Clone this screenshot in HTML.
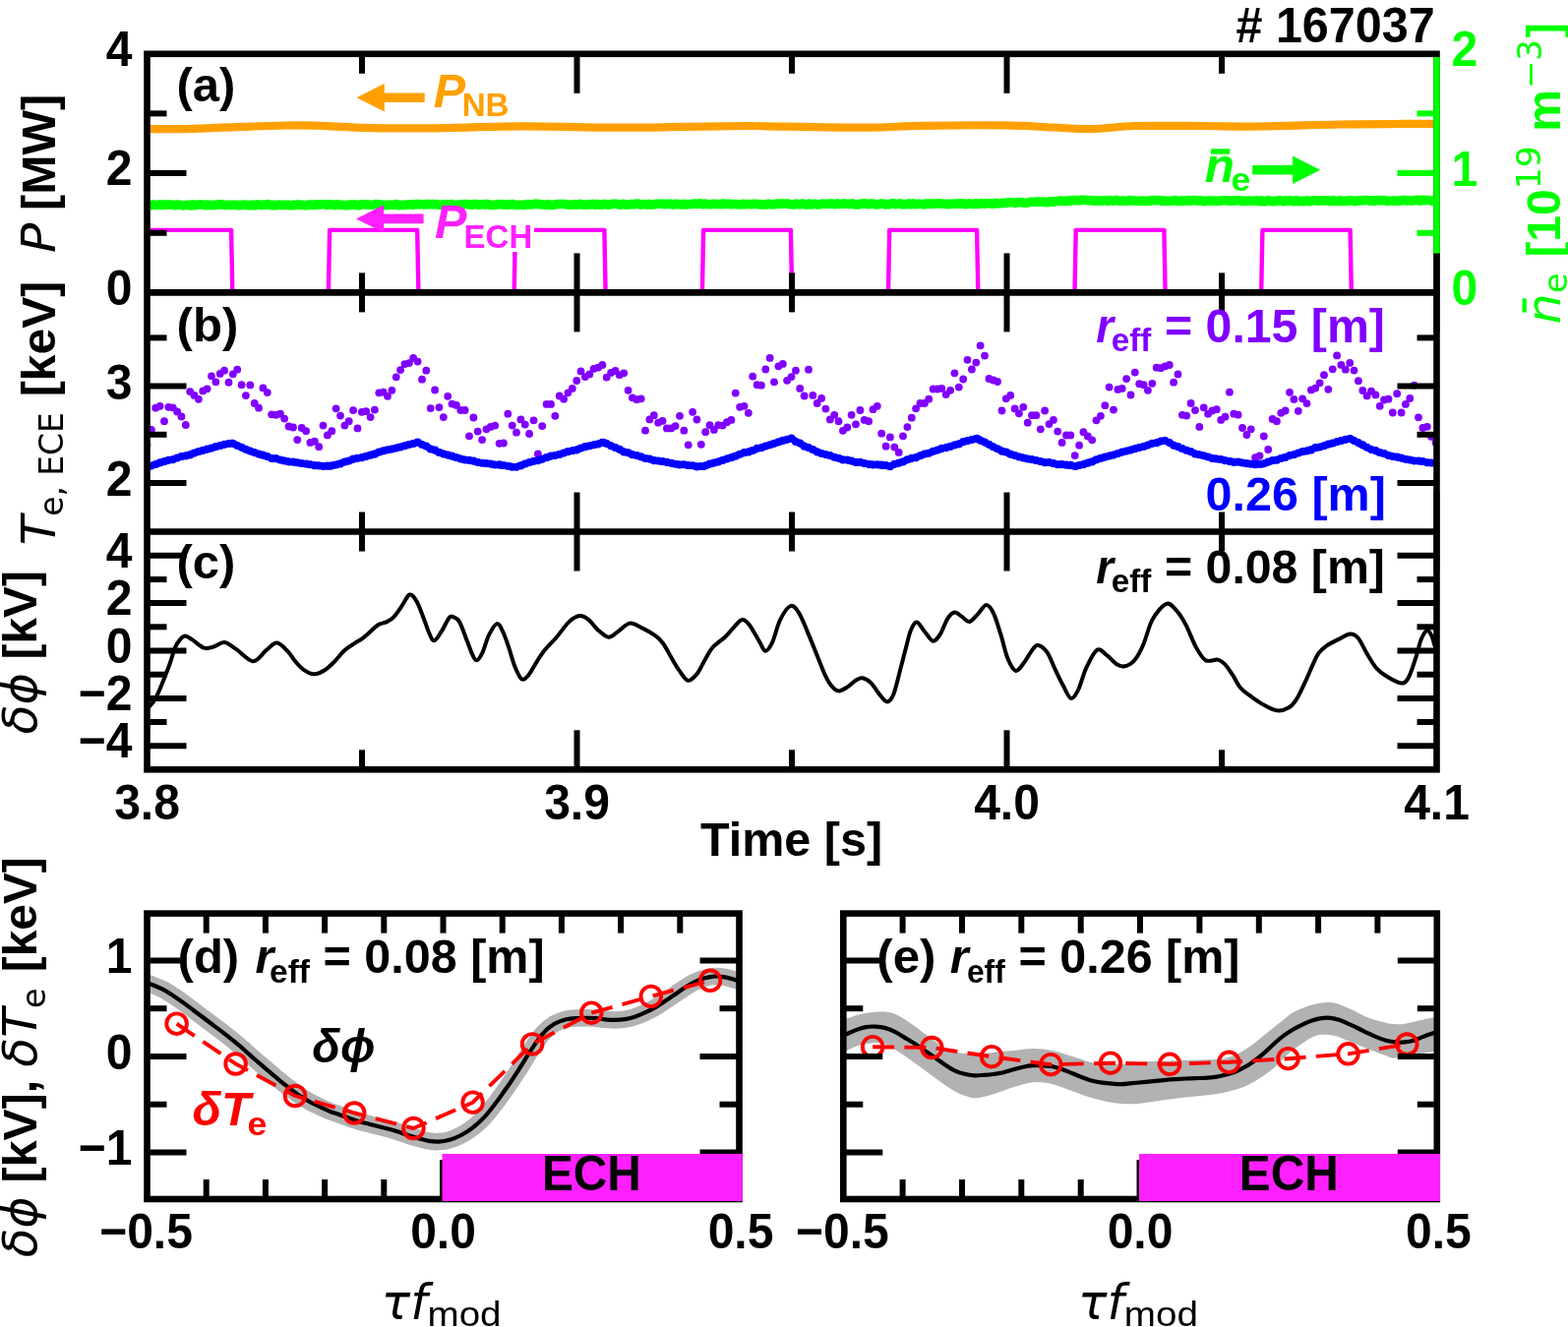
<!DOCTYPE html>
<html><head><meta charset="utf-8"><title>Shot 167037</title><style>
html,body{margin:0;padding:0;background:#fff;overflow:hidden;}
svg{display:block;font-family:"Liberation Sans", Arial, Helvetica, sans-serif;}
</style></head><body>
<svg width="1594" height="1349" viewBox="0 0 1594 1349">
<rect width="1594" height="1349" fill="#fff"/>
<defs><clipPath id="ca"><rect x="149.5" y="54.8" width="1311.0" height="242.6"/></clipPath>
<clipPath id="cb"><rect x="149.5" y="297.4" width="1311.0" height="243.1"/></clipPath>
<clipPath id="cc"><rect x="149.5" y="540.5" width="1311.0" height="241.8"/></clipPath>
<clipPath id="cd"><rect x="149.5" y="928.6" width="602" height="290.4"/></clipPath>
<clipPath id="ce"><rect x="857.3" y="928.6" width="603.5" height="290.4"/></clipPath></defs>
<g clip-path="url(#ca)">
<path d="M148.0,131.1 C148.7,131.1 145.0,131.1 152.0,131.1 C159.0,131.1 175.5,131.4 190.2,131.1 C204.9,130.8 223.7,129.7 240.4,129.1 C257.1,128.5 277.2,127.8 290.6,127.5 C304.0,127.2 309.0,127.2 320.7,127.6 C332.4,127.9 347.5,129.1 360.9,129.6 C374.3,130.1 389.3,130.3 401.0,130.4 C412.7,130.5 421.4,130.5 431.2,130.4 C441.0,130.3 443.5,130.3 460.0,130.0 C476.5,129.7 503.5,128.5 530.3,128.4 C557.1,128.3 595.5,129.5 620.6,129.6 C645.7,129.7 657.5,129.5 680.9,129.2 C704.3,128.9 744.7,128.2 761.2,128.0 C777.7,127.9 760.1,128.0 780.0,128.3 C799.9,128.6 854.3,129.8 880.4,129.7 C906.5,129.6 913.2,128.2 936.6,127.8 C960.0,127.4 998.8,127.1 1021.0,127.4 C1043.2,127.7 1055.2,128.9 1070.0,129.5 C1084.8,130.1 1096.0,131.3 1110.0,131.1 C1124.0,130.8 1135.8,128.5 1154.2,128.0 C1172.6,127.5 1199.4,127.9 1220.5,128.0 C1241.6,128.1 1257.3,128.8 1280.7,128.5 C1304.1,128.2 1337.8,126.9 1361.0,126.5 C1384.2,126.1 1403.2,126.1 1420.0,126.0 C1436.8,125.9 1455.0,125.8 1462.0,125.8" fill="none" stroke="#ffa000" stroke-width="8.2" stroke-linejoin="round" stroke-linecap="round" stroke-linecap="butt"/>
<polyline points="149.5,208.3 151.7,208.1 153.9,208.7 156.1,208.0 158.3,208.5 160.5,208.3 162.7,208.0 164.9,208.5 167.1,208.0 169.3,208.4 171.5,208.0 173.7,208.0 175.9,208.4 178.1,208.8 180.3,208.0 182.5,208.2 184.7,208.6 186.9,208.9 189.1,208.5 191.3,208.3 193.5,209.0 195.7,207.9 197.9,208.8 200.1,208.2 202.3,208.0 204.5,208.0 206.7,208.2 208.9,208.8 211.1,208.1 213.3,208.5 215.5,208.6 217.7,208.3 219.9,208.5 222.1,207.9 224.3,207.9 226.5,208.1 228.7,208.6 230.9,208.3 233.1,208.2 235.3,208.5 237.5,208.3 239.7,208.2 241.9,208.7 244.1,208.6 246.3,208.1 248.5,208.4 250.7,208.4 252.9,208.8 255.1,208.6 257.3,208.1 259.5,208.9 261.7,207.9 263.9,208.3 266.1,208.6 268.3,208.0 270.5,208.3 272.7,207.8 274.9,208.5 277.1,208.6 279.3,208.4 281.5,208.7 283.7,208.1 285.9,208.5 288.1,208.4 290.3,208.4 292.5,208.3 294.7,208.7 296.9,208.8 299.1,208.3 301.3,208.5 303.5,207.8 305.7,208.5 307.9,208.4 310.1,208.8 312.3,208.6 314.5,208.0 316.7,208.1 318.9,208.5 321.1,207.7 323.3,208.2 325.5,207.9 327.7,207.8 329.9,207.8 332.1,208.5 334.3,207.8 336.5,208.0 338.7,208.1 340.9,208.6 343.1,207.8 345.3,208.2 347.5,208.3 349.7,208.6 351.9,208.6 354.1,208.6 356.3,208.0 358.5,208.1 360.7,208.0 362.9,208.6 365.1,208.7 367.3,207.8 369.5,207.8 371.7,207.9 373.9,207.9 376.1,208.2 378.3,208.3 380.5,207.9 382.7,207.6 384.9,208.1 387.1,208.0 389.3,208.2 391.5,208.6 393.7,208.4 395.9,208.2 398.1,208.3 400.3,208.3 402.5,207.6 404.7,208.6 406.9,208.4 409.1,208.5 411.3,208.4 413.5,208.0 415.7,208.0 417.9,207.7 420.1,208.2 422.3,207.6 424.5,207.6 426.7,207.8 428.9,207.7 431.1,207.9 433.3,207.6 435.5,207.5 437.7,207.7 439.9,207.6 442.1,207.9 444.3,207.5 446.5,208.5 448.7,208.2 450.9,207.7 453.1,207.8 455.3,207.9 457.5,207.9 459.7,207.6 461.9,208.4 464.1,208.6 466.3,208.0 468.5,208.0 470.7,207.6 472.9,207.6 475.1,207.8 477.3,207.7 479.5,208.4 481.7,207.6 483.9,207.5 486.1,208.5 488.3,208.0 490.5,207.6 492.7,208.0 494.9,207.5 497.1,208.0 499.3,208.5 501.5,208.4 503.7,208.2 505.9,207.7 508.1,207.8 510.3,207.6 512.5,208.2 514.7,208.0 516.9,208.2 519.1,207.7 521.3,207.6 523.5,208.3 525.7,208.5 527.9,208.3 530.1,208.3 532.3,208.3 534.5,208.2 536.7,207.6 538.9,207.9 541.1,207.7 543.3,207.4 545.5,207.4 547.7,207.6 549.9,207.6 552.1,208.1 554.3,208.4 556.5,207.8 558.7,208.3 560.9,208.4 563.1,208.3 565.3,207.7 567.5,207.5 569.7,207.5 571.9,207.5 574.1,207.5 576.3,207.9 578.5,208.2 580.7,208.2 582.9,207.8 585.1,208.0 587.3,208.1 589.5,207.3 591.7,207.9 593.9,208.2 596.1,208.1 598.3,208.0 600.5,207.7 602.7,207.4 604.9,208.1 607.1,207.5 609.3,208.1 611.5,208.2 613.7,207.6 615.9,207.6 618.1,208.2 620.3,207.9 622.5,207.3 624.7,207.3 626.9,207.3 629.1,208.1 631.3,208.0 633.5,207.3 635.7,208.0 637.9,208.2 640.1,207.8 642.3,207.5 644.5,207.7 646.7,207.2 648.9,207.1 651.1,208.1 653.3,207.8 655.5,207.6 657.7,208.1 659.9,207.5 662.1,208.0 664.3,207.9 666.5,207.3 668.7,207.3 670.9,207.3 673.1,207.3 675.3,207.7 677.5,207.3 679.7,207.5 681.9,207.1 684.1,208.0 686.3,207.4 688.5,207.5 690.7,207.6 692.9,208.0 695.1,207.4 697.3,208.0 699.5,207.5 701.7,207.5 703.9,207.5 706.1,207.0 708.3,207.4 710.5,207.1 712.7,206.9 714.9,207.8 717.1,207.1 719.3,207.5 721.5,207.7 723.7,207.5 725.9,207.3 728.1,207.5 730.3,207.5 732.5,207.8 734.7,207.0 736.9,207.5 739.1,207.2 741.3,207.2 743.5,207.8 745.7,207.5 747.9,207.5 750.1,207.8 752.3,207.9 754.5,207.4 756.7,207.6 758.9,207.5 761.1,207.5 763.3,207.7 765.5,207.4 767.7,207.5 769.9,207.4 772.1,207.9 774.3,207.7 776.5,207.9 778.7,207.9 780.9,207.2 783.1,207.5 785.3,207.9 787.5,207.8 789.7,207.1 791.9,207.0 794.1,207.4 796.3,207.0 798.5,207.2 800.7,207.0 802.9,207.6 805.1,207.8 807.3,207.9 809.5,207.1 811.7,207.7 813.9,207.6 816.1,207.0 818.3,207.9 820.5,207.9 822.7,207.1 824.9,207.9 827.1,207.3 829.3,207.4 831.5,208.0 833.7,207.8 835.9,207.1 838.1,207.3 840.3,207.4 842.5,207.2 844.7,207.1 846.9,207.2 849.1,207.7 851.3,206.9 853.5,207.5 855.7,207.3 857.9,206.9 860.1,207.2 862.3,207.5 864.5,207.4 866.7,206.9 868.9,207.9 871.1,207.7 873.3,207.9 875.5,207.0 877.7,207.1 879.9,206.9 882.1,207.7 884.3,207.1 886.5,207.0 888.7,207.3 890.9,207.9 893.1,207.8 895.3,207.1 897.5,207.0 899.7,207.9 901.9,207.5 904.1,207.6 906.3,206.9 908.5,206.9 910.7,207.6 912.9,207.3 915.1,206.9 917.3,207.9 919.5,207.5 921.7,207.7 923.9,206.9 926.1,207.8 928.3,206.9 930.5,207.8 932.7,207.3 934.9,207.2 937.1,207.5 939.3,207.9 941.5,207.1 943.7,207.0 945.9,207.4 948.1,207.1 950.3,207.0 952.5,207.0 954.7,206.9 956.9,207.1 959.1,207.2 961.3,207.2 963.5,207.7 965.7,207.2 967.9,207.4 970.1,207.0 972.3,207.2 974.5,206.9 976.7,207.1 978.9,206.9 981.1,207.6 983.3,207.4 985.5,206.9 987.7,207.2 989.9,207.6 992.1,206.7 994.3,207.4 996.5,206.9 998.7,206.9 1000.9,207.3 1003.1,206.7 1005.3,206.8 1007.5,206.9 1009.7,207.2 1011.9,206.4 1014.1,206.9 1016.3,206.7 1018.5,206.6 1020.7,206.3 1022.9,206.2 1025.1,205.8 1027.3,205.8 1029.5,205.7 1031.7,206.4 1033.9,205.8 1036.1,205.7 1038.3,205.5 1040.5,206.3 1042.7,206.2 1044.9,205.9 1047.1,205.4 1049.3,205.3 1051.5,205.3 1053.7,205.4 1055.9,205.0 1058.1,205.2 1060.3,205.0 1062.5,205.6 1064.7,205.6 1066.9,205.0 1069.1,204.6 1071.3,205.3 1073.5,204.5 1075.7,204.5 1077.9,204.0 1080.1,204.4 1082.3,204.4 1084.5,204.4 1086.7,203.9 1088.9,204.2 1091.1,203.6 1093.3,203.8 1095.5,203.5 1097.7,203.8 1099.9,203.3 1102.1,203.3 1104.3,203.6 1106.5,203.5 1108.7,203.9 1110.9,203.9 1113.1,204.1 1115.3,204.0 1117.5,204.1 1119.7,204.3 1121.9,203.7 1124.1,203.7 1126.3,204.4 1128.5,203.5 1130.7,204.1 1132.9,204.0 1135.1,203.4 1137.3,204.3 1139.5,204.3 1141.7,204.0 1143.9,204.2 1146.1,204.3 1148.3,203.5 1150.5,204.0 1152.7,203.9 1154.9,204.3 1157.1,204.3 1159.3,204.3 1161.5,204.0 1163.7,204.4 1165.9,204.2 1168.1,204.2 1170.3,203.7 1172.5,203.5 1174.7,203.6 1176.9,203.8 1179.1,203.6 1181.3,204.4 1183.5,204.1 1185.7,204.2 1187.9,204.2 1190.1,204.2 1192.3,204.0 1194.5,203.5 1196.7,204.4 1198.9,204.3 1201.1,204.1 1203.3,204.1 1205.5,204.2 1207.7,203.6 1209.9,204.3 1212.1,203.8 1214.3,203.6 1216.5,203.8 1218.7,204.3 1220.9,203.8 1223.1,204.4 1225.3,204.6 1227.5,204.1 1229.7,204.0 1231.9,204.1 1234.1,204.3 1236.3,204.4 1238.5,204.3 1240.7,204.3 1242.9,203.7 1245.1,203.8 1247.3,203.9 1249.5,204.4 1251.7,204.0 1253.9,204.3 1256.1,203.7 1258.3,203.7 1260.5,203.9 1262.7,204.4 1264.9,204.4 1267.1,204.4 1269.3,204.0 1271.5,204.2 1273.7,204.2 1275.9,204.2 1278.1,203.8 1280.3,204.6 1282.5,203.9 1284.7,204.7 1286.9,204.7 1289.1,203.7 1291.3,204.2 1293.5,204.6 1295.7,204.7 1297.9,204.1 1300.1,203.9 1302.3,203.9 1304.5,204.7 1306.7,203.9 1308.9,204.3 1311.1,203.8 1313.3,204.2 1315.5,204.7 1317.7,203.8 1319.9,204.6 1322.1,204.2 1324.3,204.6 1326.5,204.4 1328.7,203.9 1330.9,204.6 1333.1,204.2 1335.3,203.7 1337.5,203.7 1339.7,204.2 1341.9,204.1 1344.1,204.0 1346.3,203.8 1348.5,204.0 1350.7,203.9 1352.9,204.5 1355.1,203.6 1357.3,204.4 1359.5,204.5 1361.7,203.7 1363.9,204.6 1366.1,204.3 1368.3,204.5 1370.5,203.8 1372.7,203.9 1374.9,203.9 1377.1,204.6 1379.3,204.1 1381.5,203.8 1383.7,203.9 1385.9,203.7 1388.1,203.5 1390.3,203.5 1392.5,204.3 1394.7,203.7 1396.9,204.4 1399.1,203.6 1401.3,203.6 1403.5,203.9 1405.7,203.5 1407.9,203.7 1410.1,204.4 1412.3,204.3 1414.5,204.2 1416.7,204.0 1418.9,204.3 1421.1,204.3 1423.3,203.8 1425.5,204.0 1427.7,203.3 1429.9,204.0 1432.1,203.7 1434.3,204.0 1436.5,203.9 1438.7,203.5 1440.9,203.2 1443.1,204.2 1445.3,203.3 1447.5,203.6 1449.7,203.5 1451.9,203.4 1454.1,203.9 1456.3,204.2 1458.5,203.4 1460.7,203.8" fill="none" stroke="#00ff00" stroke-width="9.6" stroke-linejoin="round" stroke-linecap="butt"/>
<polyline points="149.5,233.9 235.1,233.9 236.3,297.4 333.9,297.4 335.1,233.9 424.2,233.9 425.4,297.4 522.7,297.4 523.9,233.9 614.4,233.9 615.6,297.4 713.9,297.4 715.1,233.9 803.9,233.9 805.1,297.4 903.0,297.4 904.2,233.9 993.1,233.9 994.3,297.4 1092.5,297.4 1093.7,233.9 1183.4,233.9 1184.6,297.4 1282.2,297.4 1283.4,233.9 1372.6,233.9 1373.8,297.4 1460.5,297.4" fill="none" stroke="#ff00ff" stroke-width="4.4" stroke-linejoin="round" stroke-linejoin="miter"/>
</g><g clip-path="url(#cb)">
<g fill="#8000ff">
<circle cx="149.5" cy="452.0" r="3.9"/>
<circle cx="153.9" cy="436.9" r="3.9"/>
<circle cx="158.2" cy="414.7" r="3.9"/>
<circle cx="162.6" cy="412.8" r="3.9"/>
<circle cx="167.0" cy="428.2" r="3.9"/>
<circle cx="171.3" cy="413.8" r="3.9"/>
<circle cx="175.7" cy="414.3" r="3.9"/>
<circle cx="180.1" cy="418.5" r="3.9"/>
<circle cx="184.4" cy="423.5" r="3.9"/>
<circle cx="188.8" cy="432.0" r="3.9"/>
<circle cx="193.2" cy="398.1" r="3.9"/>
<circle cx="197.5" cy="401.9" r="3.9"/>
<circle cx="201.9" cy="405.8" r="3.9"/>
<circle cx="206.3" cy="397.4" r="3.9"/>
<circle cx="210.6" cy="395.3" r="3.9"/>
<circle cx="215.0" cy="382.3" r="3.9"/>
<circle cx="219.4" cy="388.3" r="3.9"/>
<circle cx="223.7" cy="379.9" r="3.9"/>
<circle cx="228.1" cy="376.7" r="3.9"/>
<circle cx="232.5" cy="388.7" r="3.9"/>
<circle cx="236.8" cy="380.3" r="3.9"/>
<circle cx="241.2" cy="375.7" r="3.9"/>
<circle cx="245.6" cy="391.2" r="3.9"/>
<circle cx="249.9" cy="402.1" r="3.9"/>
<circle cx="254.3" cy="391.4" r="3.9"/>
<circle cx="258.7" cy="410.0" r="3.9"/>
<circle cx="263.0" cy="414.7" r="3.9"/>
<circle cx="267.4" cy="394.4" r="3.9"/>
<circle cx="271.8" cy="399.1" r="3.9"/>
<circle cx="276.1" cy="421.3" r="3.9"/>
<circle cx="280.5" cy="421.8" r="3.9"/>
<circle cx="284.9" cy="420.7" r="3.9"/>
<circle cx="289.2" cy="425.6" r="3.9"/>
<circle cx="293.6" cy="433.5" r="3.9"/>
<circle cx="298.0" cy="434.5" r="3.9"/>
<circle cx="302.3" cy="447.1" r="3.9"/>
<circle cx="306.7" cy="435.0" r="3.9"/>
<circle cx="311.1" cy="438.2" r="3.9"/>
<circle cx="315.4" cy="449.9" r="3.9"/>
<circle cx="319.8" cy="448.6" r="3.9"/>
<circle cx="324.2" cy="454.2" r="3.9"/>
<circle cx="328.5" cy="432.6" r="3.9"/>
<circle cx="332.9" cy="442.4" r="3.9"/>
<circle cx="337.3" cy="438.2" r="3.9"/>
<circle cx="341.6" cy="415.3" r="3.9"/>
<circle cx="346.0" cy="422.6" r="3.9"/>
<circle cx="350.4" cy="432.6" r="3.9"/>
<circle cx="354.7" cy="428.2" r="3.9"/>
<circle cx="359.1" cy="417.1" r="3.9"/>
<circle cx="363.5" cy="435.4" r="3.9"/>
<circle cx="367.8" cy="418.8" r="3.9"/>
<circle cx="372.2" cy="418.1" r="3.9"/>
<circle cx="376.6" cy="424.1" r="3.9"/>
<circle cx="380.9" cy="416.6" r="3.9"/>
<circle cx="385.3" cy="399.3" r="3.9"/>
<circle cx="389.7" cy="398.7" r="3.9"/>
<circle cx="394.0" cy="402.8" r="3.9"/>
<circle cx="398.4" cy="396.8" r="3.9"/>
<circle cx="402.8" cy="383.3" r="3.9"/>
<circle cx="407.1" cy="376.1" r="3.9"/>
<circle cx="411.5" cy="370.1" r="3.9"/>
<circle cx="415.9" cy="369.1" r="3.9"/>
<circle cx="420.2" cy="363.9" r="3.9"/>
<circle cx="424.6" cy="367.6" r="3.9"/>
<circle cx="429.0" cy="385.7" r="3.9"/>
<circle cx="433.3" cy="376.7" r="3.9"/>
<circle cx="437.7" cy="415.1" r="3.9"/>
<circle cx="442.1" cy="396.5" r="3.9"/>
<circle cx="446.4" cy="414.1" r="3.9"/>
<circle cx="450.8" cy="424.1" r="3.9"/>
<circle cx="455.2" cy="402.8" r="3.9"/>
<circle cx="459.5" cy="410.6" r="3.9"/>
<circle cx="463.9" cy="411.9" r="3.9"/>
<circle cx="468.3" cy="417.0" r="3.9"/>
<circle cx="472.6" cy="417.0" r="3.9"/>
<circle cx="477.0" cy="443.3" r="3.9"/>
<circle cx="481.4" cy="424.5" r="3.9"/>
<circle cx="485.7" cy="438.6" r="3.9"/>
<circle cx="490.1" cy="447.1" r="3.9"/>
<circle cx="494.5" cy="436.3" r="3.9"/>
<circle cx="498.8" cy="433.9" r="3.9"/>
<circle cx="503.2" cy="432.6" r="3.9"/>
<circle cx="507.6" cy="450.8" r="3.9"/>
<circle cx="511.9" cy="450.5" r="3.9"/>
<circle cx="516.3" cy="420.7" r="3.9"/>
<circle cx="520.7" cy="432.6" r="3.9"/>
<circle cx="525.0" cy="439.7" r="3.9"/>
<circle cx="529.4" cy="426.4" r="3.9"/>
<circle cx="533.8" cy="431.6" r="3.9"/>
<circle cx="538.1" cy="441.0" r="3.9"/>
<circle cx="542.5" cy="427.3" r="3.9"/>
<circle cx="546.9" cy="461.4" r="3.9"/>
<circle cx="551.2" cy="433.1" r="3.9"/>
<circle cx="555.6" cy="410.9" r="3.9"/>
<circle cx="560.0" cy="410.9" r="3.9"/>
<circle cx="564.3" cy="422.8" r="3.9"/>
<circle cx="568.7" cy="402.5" r="3.9"/>
<circle cx="573.1" cy="405.7" r="3.9"/>
<circle cx="577.4" cy="399.3" r="3.9"/>
<circle cx="581.8" cy="394.9" r="3.9"/>
<circle cx="586.2" cy="387.0" r="3.9"/>
<circle cx="590.5" cy="377.4" r="3.9"/>
<circle cx="594.9" cy="383.1" r="3.9"/>
<circle cx="599.3" cy="380.4" r="3.9"/>
<circle cx="603.6" cy="374.8" r="3.9"/>
<circle cx="608.0" cy="373.7" r="3.9"/>
<circle cx="612.4" cy="371.0" r="3.9"/>
<circle cx="616.7" cy="383.6" r="3.9"/>
<circle cx="621.1" cy="378.9" r="3.9"/>
<circle cx="625.5" cy="377.0" r="3.9"/>
<circle cx="629.8" cy="381.2" r="3.9"/>
<circle cx="634.2" cy="379.3" r="3.9"/>
<circle cx="638.6" cy="396.8" r="3.9"/>
<circle cx="642.9" cy="404.3" r="3.9"/>
<circle cx="647.3" cy="406.2" r="3.9"/>
<circle cx="651.7" cy="405.3" r="3.9"/>
<circle cx="656.0" cy="437.7" r="3.9"/>
<circle cx="660.4" cy="426.4" r="3.9"/>
<circle cx="664.8" cy="422.2" r="3.9"/>
<circle cx="669.1" cy="429.7" r="3.9"/>
<circle cx="673.5" cy="427.9" r="3.9"/>
<circle cx="677.9" cy="435.4" r="3.9"/>
<circle cx="682.2" cy="435.4" r="3.9"/>
<circle cx="686.6" cy="433.1" r="3.9"/>
<circle cx="691.0" cy="422.8" r="3.9"/>
<circle cx="695.3" cy="437.7" r="3.9"/>
<circle cx="699.7" cy="452.3" r="3.9"/>
<circle cx="704.1" cy="418.8" r="3.9"/>
<circle cx="708.4" cy="426.5" r="3.9"/>
<circle cx="712.8" cy="451.8" r="3.9"/>
<circle cx="717.2" cy="439.2" r="3.9"/>
<circle cx="721.5" cy="432.2" r="3.9"/>
<circle cx="725.9" cy="436.9" r="3.9"/>
<circle cx="730.3" cy="432.2" r="3.9"/>
<circle cx="734.6" cy="432.6" r="3.9"/>
<circle cx="739.0" cy="429.2" r="3.9"/>
<circle cx="743.4" cy="426.9" r="3.9"/>
<circle cx="747.7" cy="399.6" r="3.9"/>
<circle cx="752.1" cy="413.8" r="3.9"/>
<circle cx="756.5" cy="412.8" r="3.9"/>
<circle cx="760.8" cy="419.8" r="3.9"/>
<circle cx="765.2" cy="382.7" r="3.9"/>
<circle cx="769.6" cy="391.2" r="3.9"/>
<circle cx="773.9" cy="391.7" r="3.9"/>
<circle cx="778.3" cy="375.5" r="3.9"/>
<circle cx="782.7" cy="363.9" r="3.9"/>
<circle cx="787.0" cy="388.3" r="3.9"/>
<circle cx="791.4" cy="372.3" r="3.9"/>
<circle cx="795.8" cy="369.9" r="3.9"/>
<circle cx="800.1" cy="386.8" r="3.9"/>
<circle cx="804.5" cy="383.1" r="3.9"/>
<circle cx="808.9" cy="376.7" r="3.9"/>
<circle cx="813.2" cy="394.9" r="3.9"/>
<circle cx="817.6" cy="402.5" r="3.9"/>
<circle cx="822.0" cy="375.7" r="3.9"/>
<circle cx="826.3" cy="401.9" r="3.9"/>
<circle cx="830.7" cy="410.0" r="3.9"/>
<circle cx="835.1" cy="404.9" r="3.9"/>
<circle cx="839.4" cy="415.6" r="3.9"/>
<circle cx="843.8" cy="426.4" r="3.9"/>
<circle cx="848.2" cy="421.8" r="3.9"/>
<circle cx="852.5" cy="428.2" r="3.9"/>
<circle cx="856.9" cy="437.8" r="3.9"/>
<circle cx="861.3" cy="434.5" r="3.9"/>
<circle cx="865.6" cy="421.8" r="3.9"/>
<circle cx="870.0" cy="431.3" r="3.9"/>
<circle cx="874.4" cy="417.0" r="3.9"/>
<circle cx="878.7" cy="426.9" r="3.9"/>
<circle cx="883.1" cy="428.2" r="3.9"/>
<circle cx="887.5" cy="416.2" r="3.9"/>
<circle cx="891.8" cy="412.8" r="3.9"/>
<circle cx="896.2" cy="440.7" r="3.9"/>
<circle cx="900.6" cy="453.7" r="3.9"/>
<circle cx="904.9" cy="444.4" r="3.9"/>
<circle cx="909.3" cy="454.6" r="3.9"/>
<circle cx="913.7" cy="459.9" r="3.9"/>
<circle cx="918.0" cy="443.3" r="3.9"/>
<circle cx="922.4" cy="434.1" r="3.9"/>
<circle cx="926.8" cy="424.7" r="3.9"/>
<circle cx="931.1" cy="415.3" r="3.9"/>
<circle cx="935.5" cy="410.0" r="3.9"/>
<circle cx="939.9" cy="410.0" r="3.9"/>
<circle cx="944.2" cy="405.7" r="3.9"/>
<circle cx="948.6" cy="395.5" r="3.9"/>
<circle cx="953.0" cy="395.5" r="3.9"/>
<circle cx="957.3" cy="394.9" r="3.9"/>
<circle cx="961.7" cy="401.1" r="3.9"/>
<circle cx="966.1" cy="396.8" r="3.9"/>
<circle cx="970.4" cy="379.3" r="3.9"/>
<circle cx="974.8" cy="393.6" r="3.9"/>
<circle cx="979.2" cy="385.5" r="3.9"/>
<circle cx="983.5" cy="365.8" r="3.9"/>
<circle cx="987.9" cy="375.5" r="3.9"/>
<circle cx="992.3" cy="368.6" r="3.9"/>
<circle cx="996.6" cy="351.3" r="3.9"/>
<circle cx="1001.0" cy="361.6" r="3.9"/>
<circle cx="1005.4" cy="385.0" r="3.9"/>
<circle cx="1009.7" cy="386.5" r="3.9"/>
<circle cx="1014.1" cy="388.0" r="3.9"/>
<circle cx="1018.5" cy="417.5" r="3.9"/>
<circle cx="1022.8" cy="405.3" r="3.9"/>
<circle cx="1027.2" cy="401.9" r="3.9"/>
<circle cx="1031.6" cy="415.4" r="3.9"/>
<circle cx="1035.9" cy="420.3" r="3.9"/>
<circle cx="1040.3" cy="413.8" r="3.9"/>
<circle cx="1044.7" cy="429.7" r="3.9"/>
<circle cx="1049.0" cy="422.2" r="3.9"/>
<circle cx="1053.4" cy="422.2" r="3.9"/>
<circle cx="1057.8" cy="436.3" r="3.9"/>
<circle cx="1062.1" cy="417.5" r="3.9"/>
<circle cx="1066.5" cy="431.1" r="3.9"/>
<circle cx="1070.9" cy="426.9" r="3.9"/>
<circle cx="1075.2" cy="438.6" r="3.9"/>
<circle cx="1079.6" cy="449.9" r="3.9"/>
<circle cx="1084.0" cy="442.5" r="3.9"/>
<circle cx="1088.3" cy="442.5" r="3.9"/>
<circle cx="1092.7" cy="463.1" r="3.9"/>
<circle cx="1097.1" cy="452.7" r="3.9"/>
<circle cx="1101.4" cy="439.2" r="3.9"/>
<circle cx="1105.8" cy="443.5" r="3.9"/>
<circle cx="1110.2" cy="447.3" r="3.9"/>
<circle cx="1114.5" cy="427.3" r="3.9"/>
<circle cx="1118.9" cy="422.8" r="3.9"/>
<circle cx="1123.3" cy="412.2" r="3.9"/>
<circle cx="1127.6" cy="393.6" r="3.9"/>
<circle cx="1132.0" cy="416.6" r="3.9"/>
<circle cx="1136.4" cy="395.9" r="3.9"/>
<circle cx="1140.7" cy="394.9" r="3.9"/>
<circle cx="1145.1" cy="385.1" r="3.9"/>
<circle cx="1149.5" cy="401.5" r="3.9"/>
<circle cx="1153.8" cy="378.6" r="3.9"/>
<circle cx="1158.2" cy="390.2" r="3.9"/>
<circle cx="1162.6" cy="391.2" r="3.9"/>
<circle cx="1166.9" cy="396.8" r="3.9"/>
<circle cx="1171.3" cy="389.8" r="3.9"/>
<circle cx="1175.7" cy="373.7" r="3.9"/>
<circle cx="1180.0" cy="374.2" r="3.9"/>
<circle cx="1184.4" cy="372.3" r="3.9"/>
<circle cx="1188.8" cy="371.0" r="3.9"/>
<circle cx="1193.1" cy="388.7" r="3.9"/>
<circle cx="1197.5" cy="380.4" r="3.9"/>
<circle cx="1201.9" cy="421.8" r="3.9"/>
<circle cx="1206.2" cy="422.6" r="3.9"/>
<circle cx="1210.6" cy="410.0" r="3.9"/>
<circle cx="1215.0" cy="417.1" r="3.9"/>
<circle cx="1219.3" cy="433.9" r="3.9"/>
<circle cx="1223.7" cy="414.3" r="3.9"/>
<circle cx="1228.1" cy="420.7" r="3.9"/>
<circle cx="1232.4" cy="417.5" r="3.9"/>
<circle cx="1236.8" cy="416.2" r="3.9"/>
<circle cx="1241.2" cy="426.9" r="3.9"/>
<circle cx="1245.5" cy="423.7" r="3.9"/>
<circle cx="1249.9" cy="398.7" r="3.9"/>
<circle cx="1254.3" cy="420.7" r="3.9"/>
<circle cx="1258.6" cy="421.7" r="3.9"/>
<circle cx="1263.0" cy="435.0" r="3.9"/>
<circle cx="1267.4" cy="442.0" r="3.9"/>
<circle cx="1271.7" cy="436.3" r="3.9"/>
<circle cx="1276.1" cy="465.1" r="3.9"/>
<circle cx="1280.5" cy="463.3" r="3.9"/>
<circle cx="1284.8" cy="443.5" r="3.9"/>
<circle cx="1289.2" cy="457.0" r="3.9"/>
<circle cx="1293.6" cy="426.0" r="3.9"/>
<circle cx="1297.9" cy="428.2" r="3.9"/>
<circle cx="1302.3" cy="419.8" r="3.9"/>
<circle cx="1306.7" cy="417.5" r="3.9"/>
<circle cx="1311.0" cy="398.8" r="3.9"/>
<circle cx="1315.4" cy="405.9" r="3.9"/>
<circle cx="1319.8" cy="417.8" r="3.9"/>
<circle cx="1324.1" cy="405.3" r="3.9"/>
<circle cx="1328.5" cy="410.1" r="3.9"/>
<circle cx="1332.9" cy="396.4" r="3.9"/>
<circle cx="1337.2" cy="394.6" r="3.9"/>
<circle cx="1341.6" cy="389.3" r="3.9"/>
<circle cx="1346.0" cy="381.2" r="3.9"/>
<circle cx="1350.3" cy="395.8" r="3.9"/>
<circle cx="1354.7" cy="375.3" r="3.9"/>
<circle cx="1359.1" cy="361.4" r="3.9"/>
<circle cx="1363.4" cy="370.9" r="3.9"/>
<circle cx="1367.8" cy="375.7" r="3.9"/>
<circle cx="1372.2" cy="368.9" r="3.9"/>
<circle cx="1376.5" cy="376.6" r="3.9"/>
<circle cx="1380.9" cy="387.2" r="3.9"/>
<circle cx="1385.3" cy="397.0" r="3.9"/>
<circle cx="1389.6" cy="402.4" r="3.9"/>
<circle cx="1394.0" cy="397.6" r="3.9"/>
<circle cx="1398.4" cy="401.4" r="3.9"/>
<circle cx="1402.7" cy="412.8" r="3.9"/>
<circle cx="1407.1" cy="406.5" r="3.9"/>
<circle cx="1411.5" cy="405.7" r="3.9"/>
<circle cx="1415.8" cy="419.5" r="3.9"/>
<circle cx="1420.2" cy="400.2" r="3.9"/>
<circle cx="1424.6" cy="419.5" r="3.9"/>
<circle cx="1428.9" cy="410.9" r="3.9"/>
<circle cx="1433.3" cy="405.0" r="3.9"/>
<circle cx="1437.7" cy="391.7" r="3.9"/>
<circle cx="1442.0" cy="424.3" r="3.9"/>
<circle cx="1446.4" cy="435.0" r="3.9"/>
<circle cx="1450.8" cy="433.8" r="3.9"/>
<circle cx="1455.1" cy="443.9" r="3.9"/>
<circle cx="1459.5" cy="450.0" r="3.9"/>
</g>
<polyline points="149.5,475.0 153.1,473.7 156.7,472.5 160.3,471.4 163.9,470.3 167.5,469.2 171.1,468.1 174.7,467.1 178.3,466.0 181.9,465.0 185.5,463.9 189.1,462.9 192.8,461.9 196.4,460.9 200.0,459.9 203.6,458.9 207.2,457.9 210.8,456.9 214.4,455.9 218.0,454.9 221.6,453.9 225.2,452.9 228.8,451.9 232.4,451.0 236.0,450.0 240.2,452.2 244.3,454.3 248.5,456.2 252.7,457.9 256.8,459.5 261.0,461.0 265.2,462.4 269.3,463.6 273.5,464.8 277.7,465.8 281.8,466.8 286.0,467.7 290.2,468.5 294.3,469.3 298.5,470.0 302.7,470.6 306.8,471.2 311.0,471.7 315.2,472.2 319.3,472.7 323.5,473.1 327.7,473.5 331.8,473.9 336.0,474.2 339.7,472.9 343.4,471.8 347.1,470.6 350.8,469.5 354.5,468.5 358.2,467.4 361.9,466.3 365.6,465.3 369.3,464.3 373.0,463.3 376.7,462.2 380.4,461.2 384.1,460.2 387.8,459.2 391.5,458.2 395.2,457.3 398.9,456.3 402.6,455.3 406.3,454.3 410.0,453.4 413.7,452.4 417.4,451.4 421.1,450.5 424.8,449.5 429.0,451.8 433.2,453.9 437.3,455.9 441.5,457.7 445.7,459.4 449.9,460.9 454.0,462.3 458.2,463.6 462.4,464.8 466.6,465.8 470.7,466.9 474.9,467.8 479.1,468.6 483.2,469.4 487.4,470.1 491.6,470.8 495.8,471.4 499.9,472.0 504.1,472.5 508.3,473.0 512.5,473.4 516.6,473.8 520.8,474.2 525.0,474.5 528.7,473.2 532.5,472.0 536.2,470.9 539.9,469.8 543.6,468.7 547.4,467.6 551.1,466.6 554.8,465.5 558.6,464.5 562.3,463.4 566.0,462.4 569.8,461.4 573.5,460.4 577.2,459.4 580.9,458.4 584.7,457.4 588.4,456.4 592.1,455.4 595.9,454.4 599.6,453.4 603.3,452.4 607.0,451.4 610.8,450.5 614.5,449.5 618.7,451.8 622.9,453.9 627.1,455.9 631.3,457.7 635.5,459.4 639.8,460.9 644.0,462.3 648.2,463.6 652.4,464.8 656.6,465.8 660.8,466.9 665.0,467.8 669.2,468.6 673.4,469.4 677.6,470.1 681.8,470.8 686.0,471.4 690.2,472.0 694.5,472.5 698.7,473.0 702.9,473.4 707.1,473.8 711.3,474.2 715.5,474.5 719.2,473.0 722.9,471.6 726.6,470.3 730.3,469.1 734.0,467.8 737.8,466.6 741.5,465.3 745.2,464.1 748.9,462.9 752.6,461.7 756.3,460.6 760.0,459.4 763.7,458.2 767.4,457.1 771.1,455.9 774.8,454.7 778.5,453.6 782.2,452.5 786.0,451.3 789.7,450.2 793.4,449.1 797.1,447.9 800.8,446.8 804.5,445.7 808.7,448.3 812.8,450.7 817.0,452.9 821.2,455.0 825.3,456.9 829.5,458.6 833.7,460.2 837.8,461.6 842.0,463.0 846.2,464.2 850.3,465.3 854.5,466.4 858.7,467.4 862.8,468.2 867.0,469.1 871.2,469.8 875.3,470.5 879.5,471.1 883.7,471.7 887.8,472.2 892.0,472.7 896.2,473.2 900.3,473.6 904.5,474.0 908.2,472.5 911.9,471.1 915.6,469.8 919.3,468.6 923.0,467.3 926.8,466.1 930.5,464.8 934.2,463.6 937.9,462.4 941.6,461.2 945.3,460.1 949.0,458.9 952.7,457.7 956.4,456.6 960.1,455.4 963.8,454.2 967.5,453.1 971.2,452.0 975.0,450.8 978.7,449.7 982.4,448.6 986.1,447.4 989.8,446.3 993.5,445.2 997.7,447.9 1002.0,450.3 1006.2,452.6 1010.4,454.6 1014.6,456.5 1018.9,458.3 1023.1,459.9 1027.3,461.4 1031.6,462.8 1035.8,464.0 1040.0,465.2 1044.2,466.3 1048.5,467.2 1052.7,468.1 1056.9,469.0 1061.2,469.7 1065.4,470.4 1069.6,471.1 1073.9,471.7 1078.1,472.2 1082.3,472.7 1086.5,473.2 1090.8,473.6 1095.0,474.0 1098.7,472.6 1102.4,471.4 1106.1,470.2 1109.8,469.0 1113.5,467.9 1117.2,466.7 1121.0,465.6 1124.7,464.5 1128.4,463.4 1132.1,462.3 1135.8,461.2 1139.5,460.1 1143.2,459.1 1146.9,458.0 1150.6,456.9 1154.3,455.9 1158.0,454.8 1161.8,453.8 1165.5,452.8 1169.2,451.7 1172.9,450.7 1176.6,449.7 1180.3,448.6 1184.0,447.6 1188.1,449.9 1192.2,452.0 1196.3,453.9 1200.4,455.7 1204.5,457.3 1208.6,458.8 1212.7,460.2 1216.8,461.5 1220.9,462.7 1225.0,463.8 1229.1,464.7 1233.2,465.7 1237.4,466.5 1241.5,467.3 1245.6,468.0 1249.7,468.6 1253.8,469.2 1257.9,469.8 1262.0,470.3 1266.1,470.8 1270.2,471.2 1274.3,471.6 1278.4,472.0 1282.5,472.3 1286.3,470.9 1290.0,469.7 1293.8,468.4 1297.6,467.3 1301.4,466.1 1305.1,464.9 1308.9,463.8 1312.7,462.7 1316.4,461.6 1320.2,460.5 1324.0,459.4 1327.8,458.3 1331.5,457.2 1335.3,456.1 1339.1,455.1 1342.8,454.0 1346.6,452.9 1350.4,451.9 1354.1,450.8 1357.9,449.8 1361.7,448.7 1365.5,447.7 1369.2,446.6 1373.0,445.6 1376.6,447.9 1380.3,450.1 1383.9,452.1 1387.6,453.9 1391.2,455.6 1394.9,457.2 1398.5,458.6 1402.2,459.9 1405.8,461.1 1409.5,462.2 1413.1,463.2 1416.8,464.2 1420.4,465.0 1424.0,465.8 1427.7,466.6 1431.3,467.2 1435.0,467.9 1438.6,468.4 1442.3,468.9 1445.9,469.4 1449.6,469.9 1453.2,470.3 1456.9,470.7 1460.5,471.0" fill="none" stroke="#0000ff" stroke-width="7.0" stroke-linejoin="round" />
<g fill="#0000ff">
<circle cx="149.5" cy="474.8" r="4.0"/>
<circle cx="153.9" cy="473.5" r="4.0"/>
<circle cx="158.2" cy="471.9" r="4.0"/>
<circle cx="162.6" cy="470.3" r="4.0"/>
<circle cx="167.0" cy="468.9" r="4.0"/>
<circle cx="171.3" cy="467.7" r="4.0"/>
<circle cx="175.7" cy="467.3" r="4.0"/>
<circle cx="180.1" cy="465.5" r="4.0"/>
<circle cx="184.4" cy="463.9" r="4.0"/>
<circle cx="188.8" cy="463.5" r="4.0"/>
<circle cx="193.2" cy="462.4" r="4.0"/>
<circle cx="197.5" cy="460.5" r="4.0"/>
<circle cx="201.9" cy="458.9" r="4.0"/>
<circle cx="206.3" cy="457.7" r="4.0"/>
<circle cx="210.6" cy="456.4" r="4.0"/>
<circle cx="215.0" cy="455.5" r="4.0"/>
<circle cx="219.4" cy="454.0" r="4.0"/>
<circle cx="223.7" cy="453.0" r="4.0"/>
<circle cx="228.1" cy="451.8" r="4.0"/>
<circle cx="232.5" cy="451.0" r="4.0"/>
<circle cx="236.8" cy="450.9" r="4.0"/>
<circle cx="241.2" cy="453.0" r="4.0"/>
<circle cx="245.6" cy="454.8" r="4.0"/>
<circle cx="249.9" cy="456.7" r="4.0"/>
<circle cx="254.3" cy="458.6" r="4.0"/>
<circle cx="258.7" cy="460.0" r="4.0"/>
<circle cx="263.0" cy="461.5" r="4.0"/>
<circle cx="267.4" cy="462.5" r="4.0"/>
<circle cx="271.8" cy="464.0" r="4.0"/>
<circle cx="276.1" cy="466.0" r="4.0"/>
<circle cx="280.5" cy="466.0" r="4.0"/>
<circle cx="284.9" cy="467.5" r="4.0"/>
<circle cx="289.2" cy="468.5" r="4.0"/>
<circle cx="293.6" cy="469.6" r="4.0"/>
<circle cx="298.0" cy="469.5" r="4.0"/>
<circle cx="302.3" cy="470.3" r="4.0"/>
<circle cx="306.7" cy="470.9" r="4.0"/>
<circle cx="311.1" cy="471.6" r="4.0"/>
<circle cx="315.4" cy="472.2" r="4.0"/>
<circle cx="319.8" cy="473.3" r="4.0"/>
<circle cx="324.2" cy="473.6" r="4.0"/>
<circle cx="328.5" cy="474.0" r="4.0"/>
<circle cx="332.9" cy="473.4" r="4.0"/>
<circle cx="337.3" cy="473.2" r="4.0"/>
<circle cx="341.6" cy="472.6" r="4.0"/>
<circle cx="346.0" cy="471.4" r="4.0"/>
<circle cx="350.4" cy="469.6" r="4.0"/>
<circle cx="354.7" cy="468.5" r="4.0"/>
<circle cx="359.1" cy="466.5" r="4.0"/>
<circle cx="363.5" cy="465.8" r="4.0"/>
<circle cx="367.8" cy="465.2" r="4.0"/>
<circle cx="372.2" cy="463.9" r="4.0"/>
<circle cx="376.6" cy="462.7" r="4.0"/>
<circle cx="380.9" cy="461.7" r="4.0"/>
<circle cx="385.3" cy="459.6" r="4.0"/>
<circle cx="389.7" cy="458.3" r="4.0"/>
<circle cx="394.0" cy="457.2" r="4.0"/>
<circle cx="398.4" cy="456.4" r="4.0"/>
<circle cx="402.8" cy="455.5" r="4.0"/>
<circle cx="407.1" cy="454.6" r="4.0"/>
<circle cx="411.5" cy="453.2" r="4.0"/>
<circle cx="415.9" cy="452.0" r="4.0"/>
<circle cx="420.2" cy="451.0" r="4.0"/>
<circle cx="424.6" cy="449.5" r="4.0"/>
<circle cx="429.0" cy="451.9" r="4.0"/>
<circle cx="433.3" cy="453.5" r="4.0"/>
<circle cx="437.7" cy="456.4" r="4.0"/>
<circle cx="442.1" cy="457.6" r="4.0"/>
<circle cx="446.4" cy="460.1" r="4.0"/>
<circle cx="450.8" cy="461.4" r="4.0"/>
<circle cx="455.2" cy="462.4" r="4.0"/>
<circle cx="459.5" cy="463.5" r="4.0"/>
<circle cx="463.9" cy="464.9" r="4.0"/>
<circle cx="468.3" cy="466.4" r="4.0"/>
<circle cx="472.6" cy="467.5" r="4.0"/>
<circle cx="477.0" cy="467.7" r="4.0"/>
<circle cx="481.4" cy="468.5" r="4.0"/>
<circle cx="485.7" cy="469.9" r="4.0"/>
<circle cx="490.1" cy="470.7" r="4.0"/>
<circle cx="494.5" cy="471.1" r="4.0"/>
<circle cx="498.8" cy="471.5" r="4.0"/>
<circle cx="503.2" cy="472.5" r="4.0"/>
<circle cx="507.6" cy="472.3" r="4.0"/>
<circle cx="511.9" cy="473.1" r="4.0"/>
<circle cx="516.3" cy="473.7" r="4.0"/>
<circle cx="520.7" cy="474.7" r="4.0"/>
<circle cx="525.0" cy="474.7" r="4.0"/>
<circle cx="529.4" cy="473.4" r="4.0"/>
<circle cx="533.8" cy="471.6" r="4.0"/>
<circle cx="538.1" cy="470.0" r="4.0"/>
<circle cx="542.5" cy="468.7" r="4.0"/>
<circle cx="546.9" cy="468.3" r="4.0"/>
<circle cx="551.2" cy="466.8" r="4.0"/>
<circle cx="555.6" cy="465.1" r="4.0"/>
<circle cx="560.0" cy="463.5" r="4.0"/>
<circle cx="564.3" cy="462.9" r="4.0"/>
<circle cx="568.7" cy="461.9" r="4.0"/>
<circle cx="573.1" cy="460.4" r="4.0"/>
<circle cx="577.4" cy="459.0" r="4.0"/>
<circle cx="581.8" cy="458.3" r="4.0"/>
<circle cx="586.2" cy="457.5" r="4.0"/>
<circle cx="590.5" cy="455.5" r="4.0"/>
<circle cx="594.9" cy="454.1" r="4.0"/>
<circle cx="599.3" cy="453.3" r="4.0"/>
<circle cx="603.6" cy="452.2" r="4.0"/>
<circle cx="608.0" cy="451.4" r="4.0"/>
<circle cx="612.4" cy="449.7" r="4.0"/>
<circle cx="616.7" cy="451.1" r="4.0"/>
<circle cx="621.1" cy="453.3" r="4.0"/>
<circle cx="625.5" cy="455.1" r="4.0"/>
<circle cx="629.8" cy="456.7" r="4.0"/>
<circle cx="634.2" cy="459.4" r="4.0"/>
<circle cx="638.6" cy="460.2" r="4.0"/>
<circle cx="642.9" cy="462.3" r="4.0"/>
<circle cx="647.3" cy="463.0" r="4.0"/>
<circle cx="651.7" cy="464.2" r="4.0"/>
<circle cx="656.0" cy="466.0" r="4.0"/>
<circle cx="660.4" cy="466.5" r="4.0"/>
<circle cx="664.8" cy="468.3" r="4.0"/>
<circle cx="669.1" cy="468.6" r="4.0"/>
<circle cx="673.5" cy="469.0" r="4.0"/>
<circle cx="677.9" cy="469.8" r="4.0"/>
<circle cx="682.2" cy="470.8" r="4.0"/>
<circle cx="686.6" cy="471.7" r="4.0"/>
<circle cx="691.0" cy="472.6" r="4.0"/>
<circle cx="695.3" cy="472.2" r="4.0"/>
<circle cx="699.7" cy="472.9" r="4.0"/>
<circle cx="704.1" cy="473.2" r="4.0"/>
<circle cx="708.4" cy="474.5" r="4.0"/>
<circle cx="712.8" cy="473.9" r="4.0"/>
<circle cx="717.2" cy="473.3" r="4.0"/>
<circle cx="721.5" cy="471.6" r="4.0"/>
<circle cx="725.9" cy="470.5" r="4.0"/>
<circle cx="730.3" cy="469.6" r="4.0"/>
<circle cx="734.6" cy="468.1" r="4.0"/>
<circle cx="739.0" cy="466.4" r="4.0"/>
<circle cx="743.4" cy="465.3" r="4.0"/>
<circle cx="747.7" cy="463.8" r="4.0"/>
<circle cx="752.1" cy="461.7" r="4.0"/>
<circle cx="756.5" cy="460.1" r="4.0"/>
<circle cx="760.8" cy="459.6" r="4.0"/>
<circle cx="765.2" cy="458.0" r="4.0"/>
<circle cx="769.6" cy="455.8" r="4.0"/>
<circle cx="773.9" cy="455.2" r="4.0"/>
<circle cx="778.3" cy="453.5" r="4.0"/>
<circle cx="782.7" cy="452.2" r="4.0"/>
<circle cx="787.0" cy="450.8" r="4.0"/>
<circle cx="791.4" cy="449.3" r="4.0"/>
<circle cx="795.8" cy="447.7" r="4.0"/>
<circle cx="800.1" cy="446.8" r="4.0"/>
<circle cx="804.5" cy="445.5" r="4.0"/>
<circle cx="808.9" cy="449.0" r="4.0"/>
<circle cx="813.2" cy="450.5" r="4.0"/>
<circle cx="817.6" cy="453.8" r="4.0"/>
<circle cx="822.0" cy="455.0" r="4.0"/>
<circle cx="826.3" cy="457.1" r="4.0"/>
<circle cx="830.7" cy="459.4" r="4.0"/>
<circle cx="835.1" cy="461.0" r="4.0"/>
<circle cx="839.4" cy="462.1" r="4.0"/>
<circle cx="843.8" cy="463.0" r="4.0"/>
<circle cx="848.2" cy="464.7" r="4.0"/>
<circle cx="852.5" cy="465.7" r="4.0"/>
<circle cx="856.9" cy="467.4" r="4.0"/>
<circle cx="861.3" cy="467.5" r="4.0"/>
<circle cx="865.6" cy="468.6" r="4.0"/>
<circle cx="870.0" cy="470.1" r="4.0"/>
<circle cx="874.4" cy="469.8" r="4.0"/>
<circle cx="878.7" cy="470.9" r="4.0"/>
<circle cx="883.1" cy="472.0" r="4.0"/>
<circle cx="887.5" cy="472.5" r="4.0"/>
<circle cx="891.8" cy="472.2" r="4.0"/>
<circle cx="896.2" cy="472.6" r="4.0"/>
<circle cx="900.6" cy="473.1" r="4.0"/>
<circle cx="904.9" cy="474.3" r="4.0"/>
<circle cx="909.3" cy="471.8" r="4.0"/>
<circle cx="913.7" cy="470.8" r="4.0"/>
<circle cx="918.0" cy="469.5" r="4.0"/>
<circle cx="922.4" cy="467.3" r="4.0"/>
<circle cx="926.8" cy="465.8" r="4.0"/>
<circle cx="931.1" cy="465.2" r="4.0"/>
<circle cx="935.5" cy="463.3" r="4.0"/>
<circle cx="939.9" cy="461.5" r="4.0"/>
<circle cx="944.2" cy="460.7" r="4.0"/>
<circle cx="948.6" cy="458.8" r="4.0"/>
<circle cx="953.0" cy="457.4" r="4.0"/>
<circle cx="957.3" cy="455.7" r="4.0"/>
<circle cx="961.7" cy="455.2" r="4.0"/>
<circle cx="966.1" cy="454.1" r="4.0"/>
<circle cx="970.4" cy="452.4" r="4.0"/>
<circle cx="974.8" cy="451.4" r="4.0"/>
<circle cx="979.2" cy="449.0" r="4.0"/>
<circle cx="983.5" cy="447.9" r="4.0"/>
<circle cx="987.9" cy="446.9" r="4.0"/>
<circle cx="992.3" cy="446.1" r="4.0"/>
<circle cx="996.6" cy="447.7" r="4.0"/>
<circle cx="1001.0" cy="449.6" r="4.0"/>
<circle cx="1005.4" cy="451.8" r="4.0"/>
<circle cx="1009.7" cy="454.2" r="4.0"/>
<circle cx="1014.1" cy="456.3" r="4.0"/>
<circle cx="1018.5" cy="458.7" r="4.0"/>
<circle cx="1022.8" cy="459.4" r="4.0"/>
<circle cx="1027.2" cy="461.7" r="4.0"/>
<circle cx="1031.6" cy="463.1" r="4.0"/>
<circle cx="1035.9" cy="464.5" r="4.0"/>
<circle cx="1040.3" cy="465.6" r="4.0"/>
<circle cx="1044.7" cy="466.5" r="4.0"/>
<circle cx="1049.0" cy="467.1" r="4.0"/>
<circle cx="1053.4" cy="468.1" r="4.0"/>
<circle cx="1057.8" cy="468.9" r="4.0"/>
<circle cx="1062.1" cy="470.2" r="4.0"/>
<circle cx="1066.5" cy="470.1" r="4.0"/>
<circle cx="1070.9" cy="470.9" r="4.0"/>
<circle cx="1075.2" cy="472.2" r="4.0"/>
<circle cx="1079.6" cy="472.1" r="4.0"/>
<circle cx="1084.0" cy="472.4" r="4.0"/>
<circle cx="1088.3" cy="472.8" r="4.0"/>
<circle cx="1092.7" cy="473.9" r="4.0"/>
<circle cx="1097.1" cy="473.0" r="4.0"/>
<circle cx="1101.4" cy="472.3" r="4.0"/>
<circle cx="1105.8" cy="470.7" r="4.0"/>
<circle cx="1110.2" cy="469.5" r="4.0"/>
<circle cx="1114.5" cy="467.3" r="4.0"/>
<circle cx="1118.9" cy="465.7" r="4.0"/>
<circle cx="1123.3" cy="464.4" r="4.0"/>
<circle cx="1127.6" cy="463.6" r="4.0"/>
<circle cx="1132.0" cy="462.6" r="4.0"/>
<circle cx="1136.4" cy="461.0" r="4.0"/>
<circle cx="1140.7" cy="459.5" r="4.0"/>
<circle cx="1145.1" cy="458.4" r="4.0"/>
<circle cx="1149.5" cy="457.4" r="4.0"/>
<circle cx="1153.8" cy="456.2" r="4.0"/>
<circle cx="1158.2" cy="455.1" r="4.0"/>
<circle cx="1162.6" cy="454.0" r="4.0"/>
<circle cx="1166.9" cy="452.5" r="4.0"/>
<circle cx="1171.3" cy="450.7" r="4.0"/>
<circle cx="1175.7" cy="450.3" r="4.0"/>
<circle cx="1180.0" cy="448.4" r="4.0"/>
<circle cx="1184.4" cy="447.9" r="4.0"/>
<circle cx="1188.8" cy="450.1" r="4.0"/>
<circle cx="1193.1" cy="452.7" r="4.0"/>
<circle cx="1197.5" cy="454.1" r="4.0"/>
<circle cx="1201.9" cy="456.0" r="4.0"/>
<circle cx="1206.2" cy="457.7" r="4.0"/>
<circle cx="1210.6" cy="459.1" r="4.0"/>
<circle cx="1215.0" cy="461.4" r="4.0"/>
<circle cx="1219.3" cy="462.3" r="4.0"/>
<circle cx="1223.7" cy="463.2" r="4.0"/>
<circle cx="1228.1" cy="464.4" r="4.0"/>
<circle cx="1232.4" cy="466.1" r="4.0"/>
<circle cx="1236.8" cy="466.4" r="4.0"/>
<circle cx="1241.2" cy="466.9" r="4.0"/>
<circle cx="1245.5" cy="468.3" r="4.0"/>
<circle cx="1249.9" cy="468.9" r="4.0"/>
<circle cx="1254.3" cy="469.9" r="4.0"/>
<circle cx="1258.6" cy="469.4" r="4.0"/>
<circle cx="1263.0" cy="470.4" r="4.0"/>
<circle cx="1267.4" cy="471.3" r="4.0"/>
<circle cx="1271.7" cy="471.8" r="4.0"/>
<circle cx="1276.1" cy="472.3" r="4.0"/>
<circle cx="1280.5" cy="471.6" r="4.0"/>
<circle cx="1284.8" cy="471.2" r="4.0"/>
<circle cx="1289.2" cy="469.5" r="4.0"/>
<circle cx="1293.6" cy="468.1" r="4.0"/>
<circle cx="1297.9" cy="467.7" r="4.0"/>
<circle cx="1302.3" cy="465.9" r="4.0"/>
<circle cx="1306.7" cy="465.0" r="4.0"/>
<circle cx="1311.0" cy="463.0" r="4.0"/>
<circle cx="1315.4" cy="462.3" r="4.0"/>
<circle cx="1319.8" cy="460.5" r="4.0"/>
<circle cx="1324.1" cy="459.0" r="4.0"/>
<circle cx="1328.5" cy="458.4" r="4.0"/>
<circle cx="1332.9" cy="457.4" r="4.0"/>
<circle cx="1337.2" cy="455.1" r="4.0"/>
<circle cx="1341.6" cy="454.4" r="4.0"/>
<circle cx="1346.0" cy="453.2" r="4.0"/>
<circle cx="1350.3" cy="451.5" r="4.0"/>
<circle cx="1354.7" cy="450.5" r="4.0"/>
<circle cx="1359.1" cy="449.0" r="4.0"/>
<circle cx="1363.4" cy="447.9" r="4.0"/>
<circle cx="1367.8" cy="446.7" r="4.0"/>
<circle cx="1372.2" cy="445.9" r="4.0"/>
<circle cx="1376.5" cy="448.1" r="4.0"/>
<circle cx="1380.9" cy="450.1" r="4.0"/>
<circle cx="1385.3" cy="452.2" r="4.0"/>
<circle cx="1389.6" cy="454.7" r="4.0"/>
<circle cx="1394.0" cy="457.0" r="4.0"/>
<circle cx="1398.4" cy="458.1" r="4.0"/>
<circle cx="1402.7" cy="459.9" r="4.0"/>
<circle cx="1407.1" cy="461.1" r="4.0"/>
<circle cx="1411.5" cy="463.1" r="4.0"/>
<circle cx="1415.8" cy="464.0" r="4.0"/>
<circle cx="1420.2" cy="464.5" r="4.0"/>
<circle cx="1424.6" cy="465.5" r="4.0"/>
<circle cx="1428.9" cy="466.7" r="4.0"/>
<circle cx="1433.3" cy="467.6" r="4.0"/>
<circle cx="1437.7" cy="468.4" r="4.0"/>
<circle cx="1442.0" cy="468.4" r="4.0"/>
<circle cx="1446.4" cy="469.1" r="4.0"/>
<circle cx="1450.8" cy="470.2" r="4.0"/>
<circle cx="1455.1" cy="470.4" r="4.0"/>
<circle cx="1459.5" cy="470.6" r="4.0"/>
</g>
</g><g clip-path="url(#cc)">
<path d="M146.0,725.0 C146.8,724.1 149.0,721.9 151.0,719.4 C153.0,716.9 155.7,714.5 158.0,710.3 C160.3,706.1 162.8,700.0 165.1,694.3 C167.4,688.6 169.9,682.2 172.1,676.2 C174.3,670.2 176.3,662.5 178.1,658.1 C179.9,653.8 181.4,652.0 183.1,650.1 C184.8,648.2 186.2,646.6 188.2,646.6 C190.2,646.6 192.0,648.1 195.2,650.1 C198.4,652.1 203.6,657.4 207.2,658.6 C210.8,659.8 213.5,658.4 217.0,657.5 C220.5,656.6 224.4,652.6 228.3,653.1 C232.2,653.6 235.6,657.0 240.4,660.2 C245.2,663.4 252.4,672.0 257.4,672.2 C262.4,672.4 266.5,664.3 270.5,661.2 C274.5,658.1 277.8,653.4 281.5,653.6 C285.2,653.8 289.4,659.1 292.5,662.2 C295.6,665.3 297.4,669.0 300.0,672.0 C302.6,675.0 304.8,678.1 308.0,680.3 C311.2,682.5 315.4,685.1 319.1,685.3 C322.8,685.5 326.6,683.5 330.1,681.3 C333.6,679.1 336.9,675.6 340.2,672.3 C343.5,668.9 346.9,664.2 350.2,661.2 C353.5,658.2 357.2,656.2 360.2,654.2 C363.2,652.2 365.8,651.0 368.3,649.2 C370.8,647.4 372.6,645.5 375.3,643.2 C378.0,640.9 381.3,637.1 384.3,635.2 C387.3,633.4 390.6,633.5 393.3,632.1 C396.0,630.8 397.9,629.8 400.4,627.1 C402.9,624.4 405.7,619.9 408.4,616.1 C411.1,612.3 413.9,605.3 416.4,604.5 C418.9,603.7 421.1,607.2 423.5,611.1 C425.9,615.0 428.3,622.6 430.5,628.1 C432.7,633.6 434.7,640.4 436.5,644.2 C438.3,648.1 439.5,651.5 441.5,651.2 C443.5,650.9 446.1,646.1 448.6,642.2 C451.1,638.4 454.6,630.6 456.6,628.1 C458.6,625.6 458.8,626.4 460.5,627.1 C462.2,627.8 464.6,627.9 467.0,632.1 C469.4,636.3 472.9,646.7 475.1,652.2 C477.3,657.7 478.5,662.0 480.1,665.2 C481.7,668.4 482.9,671.5 484.6,671.3 C486.3,671.1 488.0,668.6 490.1,664.2 C492.2,659.9 494.7,650.2 497.2,645.2 C499.7,640.2 502.9,634.6 505.2,634.1 C507.5,633.6 509.2,638.2 511.2,642.2 C513.2,646.2 515.2,652.4 517.2,658.2 C519.2,664.1 521.1,671.9 523.3,677.3 C525.5,682.6 528.0,688.8 530.3,690.3 C532.6,691.8 534.8,689.1 537.3,686.3 C539.8,683.5 542.6,677.5 545.3,673.3 C548.0,669.1 550.0,665.4 553.4,661.2 C556.8,657.0 561.2,653.1 565.4,648.2 C569.6,643.4 574.5,635.8 578.5,632.1 C582.5,628.4 586.2,626.4 589.5,626.1 C592.8,625.8 595.5,627.8 598.5,630.1 C601.5,632.5 604.3,637.3 607.6,640.2 C610.9,643.1 615.1,647.4 618.5,647.7 C621.9,648.0 624.5,644.5 628.1,642.1 C631.7,639.8 636.1,634.3 640.1,633.6 C644.1,632.9 647.9,636.0 652.2,638.1 C656.6,640.2 662.5,643.5 666.2,646.2 C669.9,648.9 671.5,650.5 674.2,654.2 C676.9,657.9 679.6,663.7 682.3,668.2 C685.0,672.7 687.5,677.4 690.3,681.3 C693.1,685.2 696.3,691.1 699.3,691.8 C702.3,692.5 705.5,688.7 708.4,685.3 C711.2,681.9 713.7,675.7 716.4,671.2 C719.1,666.7 720.9,662.2 724.4,658.2 C727.9,654.2 733.8,650.7 737.5,647.2 C741.2,643.7 743.7,640.0 746.5,637.1 C749.3,634.2 752.0,630.4 754.5,630.1 C757.0,629.8 758.7,631.4 761.6,635.1 C764.5,638.8 769.3,647.8 772.0,652.2 C774.7,656.6 775.8,661.5 778.0,661.7 C780.2,661.9 782.6,658.5 785.1,653.2 C787.6,647.9 790.0,636.3 793.1,630.1 C796.2,623.9 800.4,617.2 803.6,616.0 C806.8,614.8 809.3,618.6 812.2,623.1 C815.1,627.6 818.2,636.1 821.2,643.1 C824.2,650.1 827.2,657.8 830.2,665.2 C833.2,672.6 836.6,681.8 839.3,687.3 C842.0,692.8 844.0,695.9 846.3,698.4 C848.5,700.9 850.3,702.4 852.8,702.4 C855.3,702.4 858.5,700.2 861.4,698.4 C864.3,696.5 867.8,692.8 870.4,691.3 C873.0,689.8 874.4,688.8 876.9,689.3 C879.4,689.8 882.6,691.4 885.5,694.3 C888.4,697.1 891.8,703.2 894.5,706.4 C897.2,709.6 899.7,713.6 902.0,713.4 C904.3,713.2 906.2,711.1 908.5,705.4 C910.8,699.7 913.4,687.5 915.6,679.3 C917.8,671.1 919.9,662.5 921.6,656.0 C923.3,649.5 924.3,644.4 926.0,640.5 C927.7,636.6 929.6,632.3 932.0,632.6 C934.4,632.9 937.3,639.0 940.1,642.2 C942.9,645.4 945.9,651.4 948.6,651.7 C951.3,652.0 953.7,648.0 956.1,644.2 C958.5,640.4 960.9,632.7 963.2,629.1 C965.6,625.5 967.7,622.9 970.2,622.6 C972.7,622.3 975.7,625.5 978.2,627.1 C980.7,628.7 982.7,632.4 985.2,632.1 C987.7,631.8 990.4,627.9 993.3,625.1 C996.2,622.3 1000.0,615.3 1002.8,615.1 C1005.6,614.9 1007.9,619.1 1010.3,624.1 C1012.7,629.1 1015.0,637.7 1017.4,645.2 C1019.8,652.7 1021.9,663.2 1024.4,669.3 C1026.9,675.4 1029.7,681.0 1032.4,681.8 C1035.1,682.6 1037.5,678.1 1040.5,674.3 C1043.5,670.5 1047.9,662.2 1050.5,659.2 C1053.1,656.2 1053.7,655.5 1056.0,656.2 C1058.3,656.9 1061.7,659.2 1064.5,663.2 C1067.3,667.2 1069.8,674.6 1072.6,680.3 C1075.3,686.0 1078.3,692.4 1081.0,697.3 C1083.7,702.2 1086.1,709.2 1088.6,709.9 C1091.1,710.6 1093.5,706.5 1096.1,701.4 C1098.7,696.3 1100.9,686.1 1104.1,679.3 C1107.3,672.5 1111.7,662.9 1115.2,660.7 C1118.7,658.5 1121.9,663.8 1125.2,666.2 C1128.5,668.6 1132.2,673.4 1135.2,675.3 C1138.2,677.1 1140.3,678.0 1143.3,677.3 C1146.3,676.6 1150.1,674.9 1153.3,671.2 C1156.5,667.5 1159.3,662.1 1162.3,655.2 C1165.3,648.4 1167.6,637.0 1171.4,630.1 C1175.2,623.2 1181.4,615.7 1185.4,614.0 C1189.4,612.3 1192.2,616.6 1195.5,620.1 C1198.8,623.6 1202.2,628.9 1205.5,635.1 C1208.8,641.3 1212.2,651.2 1215.5,657.2 C1218.8,663.2 1221.8,669.0 1225.6,671.2 C1229.3,673.4 1234.8,670.0 1238.0,670.6 C1241.2,671.2 1242.6,672.5 1245.1,675.1 C1247.6,677.7 1250.4,682.2 1253.1,686.2 C1255.8,690.2 1257.9,695.5 1261.1,699.2 C1264.3,702.9 1268.2,705.4 1272.2,708.3 C1276.2,711.2 1280.9,714.5 1285.2,716.8 C1289.5,719.1 1294.1,721.9 1298.3,722.3 C1302.5,722.7 1307.0,721.3 1310.3,719.3 C1313.6,717.3 1315.6,714.5 1318.3,710.3 C1321.0,706.1 1323.7,699.9 1326.4,694.2 C1329.1,688.5 1332.1,681.1 1334.4,676.1 C1336.7,671.1 1338.1,667.4 1340.4,664.1 C1342.7,660.9 1345.1,659.0 1348.4,656.6 C1351.8,654.2 1356.5,652.0 1360.5,650.0 C1364.5,648.0 1369.2,644.8 1372.5,644.5 C1375.8,644.2 1377.7,645.1 1380.6,648.5 C1383.5,651.9 1386.8,659.9 1390.0,665.1 C1393.2,670.3 1396.2,675.8 1399.6,679.6 C1403.0,683.4 1406.1,685.5 1410.3,688.0 C1414.5,690.5 1421.0,694.3 1424.6,694.5 C1428.2,694.7 1429.3,693.1 1431.7,689.1 C1434.1,685.1 1436.6,676.7 1438.8,670.2 C1441.0,663.7 1442.7,654.9 1444.7,650.0 C1446.7,645.1 1448.9,641.7 1450.7,641.1 C1452.5,640.5 1454.1,643.9 1455.4,646.4 C1456.7,648.9 1457.3,652.8 1458.4,655.9 C1459.5,659.0 1461.4,663.5 1462.0,665.0" fill="none" stroke="#000" stroke-width="4.0" stroke-linejoin="round" stroke-linecap="round" />
</g>
<rect x="149.5" y="54.8" width="1311.0" height="727.5" fill="none" stroke="#000" stroke-width="6.6"/>
<line x1="149.5" y1="297.4" x2="1460.5" y2="297.4" stroke="#000" stroke-width="6.6" />
<line x1="149.5" y1="540.5" x2="1460.5" y2="540.5" stroke="#000" stroke-width="6.6" />
<line x1="368.0" y1="54.8" x2="368.0" y2="74.8" stroke="#000" stroke-width="6.0" />
<line x1="368.0" y1="277.4" x2="368.0" y2="317.4" stroke="#000" stroke-width="6.0" />
<line x1="368.0" y1="520.5" x2="368.0" y2="560.5" stroke="#000" stroke-width="6.0" />
<line x1="368.0" y1="762.3" x2="368.0" y2="782.3" stroke="#000" stroke-width="6.0" />
<line x1="586.5" y1="54.8" x2="586.5" y2="94.8" stroke="#000" stroke-width="6.0" />
<line x1="586.5" y1="257.4" x2="586.5" y2="337.4" stroke="#000" stroke-width="6.0" />
<line x1="586.5" y1="500.5" x2="586.5" y2="580.5" stroke="#000" stroke-width="6.0" />
<line x1="586.5" y1="742.3" x2="586.5" y2="782.3" stroke="#000" stroke-width="6.0" />
<line x1="805.0" y1="54.8" x2="805.0" y2="74.8" stroke="#000" stroke-width="6.0" />
<line x1="805.0" y1="277.4" x2="805.0" y2="317.4" stroke="#000" stroke-width="6.0" />
<line x1="805.0" y1="520.5" x2="805.0" y2="560.5" stroke="#000" stroke-width="6.0" />
<line x1="805.0" y1="762.3" x2="805.0" y2="782.3" stroke="#000" stroke-width="6.0" />
<line x1="1023.5" y1="54.8" x2="1023.5" y2="94.8" stroke="#000" stroke-width="6.0" />
<line x1="1023.5" y1="257.4" x2="1023.5" y2="337.4" stroke="#000" stroke-width="6.0" />
<line x1="1023.5" y1="500.5" x2="1023.5" y2="580.5" stroke="#000" stroke-width="6.0" />
<line x1="1023.5" y1="742.3" x2="1023.5" y2="782.3" stroke="#000" stroke-width="6.0" />
<line x1="1242.0" y1="54.8" x2="1242.0" y2="74.8" stroke="#000" stroke-width="6.0" />
<line x1="1242.0" y1="277.4" x2="1242.0" y2="317.4" stroke="#000" stroke-width="6.0" />
<line x1="1242.0" y1="520.5" x2="1242.0" y2="560.5" stroke="#000" stroke-width="6.0" />
<line x1="1242.0" y1="762.3" x2="1242.0" y2="782.3" stroke="#000" stroke-width="6.0" />
<line x1="1460.5" y1="257.4" x2="1460.5" y2="337.4" stroke="#000" stroke-width="6.0" />
<line x1="1460.5" y1="500.5" x2="1460.5" y2="580.5" stroke="#000" stroke-width="6.0" />
<line x1="149.5" y1="236.8" x2="169.5" y2="236.8" stroke="#000" stroke-width="6.0" />
<line x1="149.5" y1="176.1" x2="189.5" y2="176.1" stroke="#000" stroke-width="6.0" />
<line x1="149.5" y1="115.4" x2="169.5" y2="115.4" stroke="#000" stroke-width="6.0" />
<line x1="149.5" y1="491.0" x2="189.5" y2="491.0" stroke="#000" stroke-width="6.0" />
<line x1="1420.5" y1="491.0" x2="1460.5" y2="491.0" stroke="#000" stroke-width="6.0" />
<line x1="149.5" y1="441.8" x2="169.5" y2="441.8" stroke="#000" stroke-width="6.0" />
<line x1="1440.5" y1="441.8" x2="1460.5" y2="441.8" stroke="#000" stroke-width="6.0" />
<line x1="149.5" y1="392.6" x2="189.5" y2="392.6" stroke="#000" stroke-width="6.0" />
<line x1="1420.5" y1="392.6" x2="1460.5" y2="392.6" stroke="#000" stroke-width="6.0" />
<line x1="149.5" y1="343.4" x2="169.5" y2="343.4" stroke="#000" stroke-width="6.0" />
<line x1="1440.5" y1="343.4" x2="1460.5" y2="343.4" stroke="#000" stroke-width="6.0" />
<line x1="149.5" y1="758.2" x2="189.5" y2="758.2" stroke="#000" stroke-width="6.0" />
<line x1="1420.5" y1="758.2" x2="1460.5" y2="758.2" stroke="#000" stroke-width="6.0" />
<line x1="149.5" y1="734.0" x2="169.5" y2="734.0" stroke="#000" stroke-width="6.0" />
<line x1="1440.5" y1="734.0" x2="1460.5" y2="734.0" stroke="#000" stroke-width="6.0" />
<line x1="149.5" y1="709.9" x2="189.5" y2="709.9" stroke="#000" stroke-width="6.0" />
<line x1="1420.5" y1="709.9" x2="1460.5" y2="709.9" stroke="#000" stroke-width="6.0" />
<line x1="149.5" y1="685.7" x2="169.5" y2="685.7" stroke="#000" stroke-width="6.0" />
<line x1="1440.5" y1="685.7" x2="1460.5" y2="685.7" stroke="#000" stroke-width="6.0" />
<line x1="149.5" y1="661.5" x2="189.5" y2="661.5" stroke="#000" stroke-width="6.0" />
<line x1="1420.5" y1="661.5" x2="1460.5" y2="661.5" stroke="#000" stroke-width="6.0" />
<line x1="149.5" y1="637.3" x2="169.5" y2="637.3" stroke="#000" stroke-width="6.0" />
<line x1="1440.5" y1="637.3" x2="1460.5" y2="637.3" stroke="#000" stroke-width="6.0" />
<line x1="149.5" y1="613.1" x2="189.5" y2="613.1" stroke="#000" stroke-width="6.0" />
<line x1="1420.5" y1="613.1" x2="1460.5" y2="613.1" stroke="#000" stroke-width="6.0" />
<line x1="149.5" y1="589.0" x2="169.5" y2="589.0" stroke="#000" stroke-width="6.0" />
<line x1="1440.5" y1="589.0" x2="1460.5" y2="589.0" stroke="#000" stroke-width="6.0" />
<line x1="149.5" y1="564.8" x2="189.5" y2="564.8" stroke="#000" stroke-width="6.0" />
<line x1="1420.5" y1="564.8" x2="1460.5" y2="564.8" stroke="#000" stroke-width="6.0" />
<line x1="1460.5" y1="58.1" x2="1460.5" y2="257.4" stroke="#00ff00" stroke-width="6.6" />
<line x1="1440.5" y1="236.8" x2="1457.2" y2="236.8" stroke="#00ff00" stroke-width="6.0" />
<line x1="1420.5" y1="176.1" x2="1457.2" y2="176.1" stroke="#00ff00" stroke-width="6.0" />
<line x1="1440.5" y1="115.4" x2="1457.2" y2="115.4" stroke="#00ff00" stroke-width="6.0" />
<text transform="translate(134.5,67.1) scale(1.0,1.06)" font-size="48" text-anchor="end" font-weight="bold" font-style="normal" fill="#000">4</text>
<text transform="translate(134.5,188.4) scale(1.0,1.06)" font-size="48" text-anchor="end" font-weight="bold" font-style="normal" fill="#000">2</text>
<text transform="translate(134.5,310.0) scale(1.0,1.06)" font-size="48" text-anchor="end" font-weight="bold" font-style="normal" fill="#000">0</text>
<text transform="translate(134.5,405.6) scale(1.0,1.06)" font-size="48" text-anchor="end" font-weight="bold" font-style="normal" fill="#000">3</text>
<text transform="translate(134.5,504.0) scale(1.0,1.06)" font-size="48" text-anchor="end" font-weight="bold" font-style="normal" fill="#000">2</text>
<text transform="translate(134.5,770.2) scale(1.0,1.06)" font-size="48" text-anchor="end" font-weight="bold" font-style="normal" fill="#000">&#8722;4</text>
<text transform="translate(134.5,721.9) scale(1.0,1.06)" font-size="48" text-anchor="end" font-weight="bold" font-style="normal" fill="#000">&#8722;2</text>
<text transform="translate(134.5,673.5) scale(1.0,1.06)" font-size="48" text-anchor="end" font-weight="bold" font-style="normal" fill="#000">0</text>
<text transform="translate(134.5,625.1) scale(1.0,1.06)" font-size="48" text-anchor="end" font-weight="bold" font-style="normal" fill="#000">2</text>
<text transform="translate(134.5,576.8) scale(1.0,1.06)" font-size="48" text-anchor="end" font-weight="bold" font-style="normal" fill="#000">4</text>
<text transform="translate(149.5,832.5) scale(1.0,1.06)" font-size="48" text-anchor="middle" font-weight="bold" font-style="normal" fill="#000">3.8</text>
<text transform="translate(586.5,832.5) scale(1.0,1.06)" font-size="48" text-anchor="middle" font-weight="bold" font-style="normal" fill="#000">3.9</text>
<text transform="translate(1023.5,832.5) scale(1.0,1.06)" font-size="48" text-anchor="middle" font-weight="bold" font-style="normal" fill="#000">4.0</text>
<text transform="translate(1460.5,832.5) scale(1.0,1.06)" font-size="48" text-anchor="middle" font-weight="bold" font-style="normal" fill="#000">4.1</text>
<text transform="translate(1475.5,310.0) scale(1.0,1.06)" font-size="48" text-anchor="start" font-weight="bold" font-style="normal" fill="#00ff00">0</text>
<text transform="translate(1475.5,189.0) scale(1.0,1.06)" font-size="48" text-anchor="start" font-weight="bold" font-style="normal" fill="#00ff00">1</text>
<text transform="translate(1475.5,67.1) scale(1.0,1.06)" font-size="48" text-anchor="start" font-weight="bold" font-style="normal" fill="#00ff00">2</text>
<text transform="translate(179.56,102.7) scale(1.0207,1.0)" font-size="48" font-weight="bold" font-style="normal" fill="#000">(a)</text>
<text transform="translate(179.55,346.8) scale(1.0229,1.0)" font-size="48" font-weight="bold" font-style="normal" fill="#000">(b)</text>
<text transform="translate(179.56,588.0) scale(1.0207,1.0)" font-size="48" font-weight="bold" font-style="normal" fill="#000">(c)</text>
<path d="M362.5,99.3 L390.8,85.1 L390.8,94.5 L431.7,94.5 L431.7,104.1 L390.8,104.1 L390.8,113.5 Z" fill="#ffa000"/>
<text transform="translate(440.75,109.0) scale(1.0115,1.02)" font-size="48" font-weight="bold" font-style="italic" fill="#ffa000">P</text>
<text transform="translate(469.69,117.7) scale(0.9737,1.0)" font-size="34" font-weight="bold" font-style="normal" fill="#ffa000">NB</text>
<rect x="440" y="214" width="103" height="42" fill="#fff"/>
<path d="M362,222.4 L390.2,208.20000000000002 L390.2,217.6 L430.6,217.6 L430.6,227.20000000000002 L390.2,227.20000000000002 L390.2,236.6 Z" fill="#ff20ff"/>
<text transform="translate(442.05,241.8) scale(1.0115,1.02)" font-size="48" font-weight="bold" font-style="italic" fill="#ff20ff">P</text>
<text transform="translate(471.59,251.9) scale(0.9700,1.0)" font-size="34" font-weight="bold" font-style="normal" fill="#ff20ff">ECH</text>
<path d="M1342.2,172.7 L1314,158.5 L1314,167.89999999999998 L1273.2,167.89999999999998 L1273.2,177.5 L1314,177.5 L1314,186.89999999999998 Z" fill="#00ff00"/>
<text transform="translate(1224.65,185.0) scale(1.0308,1.0)" font-size="48" font-weight="bold" font-style="italic" fill="#00ff00">n</text>
<text transform="translate(1251.41,194.4) scale(1.0793,1.0)" font-size="33" font-weight="bold" font-style="normal" fill="#00ff00">e</text>
<rect x="1230.9" y="151.3" width="19.4" height="5.4" fill="#00ff00"/>
<text transform="translate(1114.22,348.2) scale(0.9531,1.0)" font-size="48" font-weight="bold" font-style="italic" fill="#8000ff">r</text>
<text transform="translate(1129.70,356.6) scale(0.9754,1.0)" font-size="34" font-weight="bold" font-style="normal" fill="#8000ff">eff</text>
<text transform="translate(1184.00,348.2) scale(1.0051,1.0)" font-size="48" font-weight="bold" font-style="normal" fill="#8000ff">= 0.15 [m]</text>
<text transform="translate(1225.58,519.2) scale(1.0107,1.0)" font-size="48" font-weight="bold" font-style="normal" fill="#0000ff">0.26 [m]</text>
<text transform="translate(1114.22,592.5) scale(0.9531,1.0)" font-size="48" font-weight="bold" font-style="italic" fill="#000">r</text>
<text transform="translate(1129.70,601.6) scale(0.9754,1.0)" font-size="34" font-weight="bold" font-style="normal" fill="#000">eff</text>
<text transform="translate(1184.00,592.5) scale(1.0051,1.0)" font-size="48" font-weight="bold" font-style="normal" fill="#000">= 0.08 [m]</text>
<text transform="translate(55.7,0) rotate(-90) translate(-257.05,0.0) scale(1.0485,1)" font-size="48" font-weight="normal" font-style="italic" fill="#000" font-family="DejaVu Sans, sans-serif">P</text>
<text transform="translate(55.7,0) rotate(-90) translate(-213.92,0.0) scale(1.0074,1)" font-size="48" font-weight="bold" font-style="normal" fill="#000">[MW]</text>
<text transform="translate(56.1,0) rotate(-90) translate(-554.21,0.0) scale(1.0239,1)" font-size="48" font-weight="normal" font-style="italic" fill="#000" font-family="DejaVu Sans, sans-serif">T</text>
<text transform="translate(56.1,0) rotate(-90) translate(-524.81,8.3) scale(0.9784,1)" font-size="33.6" font-weight="normal" font-style="normal" fill="#000" font-family="DejaVu Sans, sans-serif">e, ECE</text>
<text transform="translate(56.1,0) rotate(-90) translate(-403.20,0.0) scale(1.0019,1)" font-size="48" font-weight="bold" font-style="normal" fill="#000">[keV]</text>
<text transform="translate(37.0,0) rotate(-90) translate(-746.62,0.0) scale(1.0266,1)" font-size="48" font-weight="normal" font-style="italic" fill="#000" font-family="DejaVu Sans, sans-serif">&#948;&#981;</text>
<text transform="translate(37.0,0) rotate(-90) translate(-670.38,0.0) scale(0.9954,1)" font-size="48" font-weight="bold" font-style="normal" fill="#000">[kV]</text>
<text transform="translate(37.0,0) rotate(-90) translate(-1278.30,0.0) scale(1.0109,1)" font-size="48" font-weight="normal" font-style="italic" fill="#000" font-family="DejaVu Sans, sans-serif">&#948;&#981;</text>
<text transform="translate(37.0,0) rotate(-90) translate(-1202.41,0.0) scale(1.0050,1)" font-size="48" font-weight="bold" font-style="normal" fill="#000">[kV],</text>
<text transform="translate(37.0,0) rotate(-90) translate(-1084.71,0.0) scale(1.0195,1)" font-size="48" font-weight="normal" font-style="italic" fill="#000" font-family="DejaVu Sans, sans-serif">&#948;T</text>
<text transform="translate(37.0,0) rotate(-90) translate(-1025.17,8.6) scale(1.0100,1)" font-size="33.6" font-weight="normal" font-style="normal" fill="#000" font-family="DejaVu Sans, sans-serif">e</text>
<text transform="translate(37.0,0) rotate(-90) translate(-988.29,0.0) scale(0.9975,1)" font-size="48" font-weight="bold" font-style="normal" fill="#000">[keV]</text>
<text transform="translate(1585.5,0) rotate(-90) translate(-329.43,0.0) scale(1.0245,1)" font-size="48" font-weight="normal" font-style="italic" fill="#00ff00" font-family="DejaVu Sans, sans-serif">n</text>
<rect x="1547.6" y="303.4" width="4.2" height="14.2" fill="#00ff00"/>
<text transform="translate(1585.5,0) rotate(-90) translate(-298.17,7.8) scale(1.0100,1)" font-size="33.6" font-weight="normal" font-style="normal" fill="#00ff00" font-family="DejaVu Sans, sans-serif">e</text>
<text transform="translate(1585.5,0) rotate(-90) translate(-261.59,0.0) scale(0.9983,1)" font-size="48" font-weight="bold" font-style="normal" fill="#00ff00">[10</text>
<text transform="translate(1585.5,0) rotate(-90) translate(-192.18,-19.2) scale(1.0245,1)" font-size="33.6" font-weight="normal" font-style="normal" fill="#00ff00" font-family="DejaVu Sans, sans-serif">19</text>
<text transform="translate(1585.5,0) rotate(-90) translate(-133.78,0.0) scale(1.0044,1)" font-size="48" font-weight="bold" font-style="normal" fill="#00ff00">m</text>
<text transform="translate(1585.5,0) rotate(-90) translate(-90.30,-19.0) scale(1.0120,1)" font-size="33.6" font-weight="normal" font-style="normal" fill="#00ff00" font-family="DejaVu Sans, sans-serif">&#8722;3</text>
<text transform="translate(1585.5,0) rotate(-90) translate(-38.35,0.0) scale(0.9368,1)" font-size="48" font-weight="bold" font-style="normal" fill="#00ff00">]</text>
<g clip-path="url(#cd)">
<path d="M148.0,999.0 C148.7,999.2 149.3,999.1 152.3,1000.2 C155.3,1001.4 161.8,1003.9 165.8,1005.9 C169.8,1007.9 172.7,1010.0 176.1,1012.2 C179.5,1014.5 183.0,1016.9 186.5,1019.4 C190.0,1021.9 193.4,1024.6 196.9,1027.2 C200.4,1029.8 203.9,1032.4 207.3,1035.0 C210.8,1037.6 214.2,1040.2 217.6,1042.8 C221.0,1045.4 224.5,1047.9 228.0,1050.6 C231.5,1053.3 234.9,1056.1 238.4,1058.9 C241.9,1061.8 245.4,1064.7 248.8,1067.7 C252.2,1070.7 255.7,1074.0 259.1,1077.0 C262.6,1080.0 266.0,1082.8 269.5,1085.8 C273.0,1088.8 276.4,1091.8 279.9,1094.7 C283.4,1097.6 286.9,1100.6 290.3,1103.2 C293.7,1105.8 297.6,1108.7 300.0,1110.5 C302.4,1112.3 302.5,1112.5 305.0,1114.1 C307.5,1115.7 311.8,1118.3 315.1,1120.2 C318.5,1122.1 321.8,1123.6 325.1,1125.2 C328.5,1126.8 331.9,1128.4 335.2,1129.7 C338.5,1131.0 341.9,1132.0 345.2,1133.2 C348.5,1134.4 351.8,1135.5 355.2,1136.7 C358.6,1137.9 361.9,1139.2 365.3,1140.2 C368.7,1141.2 372.0,1141.9 375.3,1142.7 C378.6,1143.5 382.0,1144.4 385.3,1145.2 C388.6,1146.0 392.0,1146.9 395.4,1147.8 C398.8,1148.7 402.0,1149.7 405.4,1150.8 C408.8,1151.9 412.1,1153.2 415.5,1154.3 C418.9,1155.4 422.2,1156.4 425.5,1157.3 C428.8,1158.2 432.1,1159.2 435.5,1159.8 C438.9,1160.3 442.0,1160.8 445.6,1160.6 C449.2,1160.4 453.0,1159.9 456.9,1158.8 C460.8,1157.7 464.8,1156.1 468.7,1154.0 C472.6,1151.9 476.7,1149.4 480.6,1146.3 C484.6,1143.2 488.4,1139.8 492.4,1135.6 C496.3,1131.3 500.3,1126.0 504.3,1120.8 C508.3,1115.6 512.2,1109.9 516.2,1104.2 C520.2,1098.5 524.0,1092.5 528.0,1086.4 C532.0,1080.3 535.9,1073.3 539.9,1067.4 C543.9,1061.5 547.8,1055.2 551.7,1050.8 C555.7,1046.4 559.6,1043.2 563.6,1040.8 C567.6,1038.4 571.5,1037.2 575.5,1036.2 C579.5,1035.2 583.7,1035.2 587.3,1035.0 C590.9,1034.8 593.9,1034.8 597.0,1034.8 C600.1,1034.8 603.0,1035.0 606.0,1035.2 C609.0,1035.5 611.8,1036.0 615.0,1036.3 C618.2,1036.6 621.7,1036.9 625.1,1036.9 C628.5,1036.9 631.9,1036.7 635.2,1036.2 C638.6,1035.7 641.9,1034.8 645.2,1033.7 C648.5,1032.6 651.9,1031.2 655.2,1029.7 C658.6,1028.2 661.9,1026.6 665.3,1024.7 C668.6,1022.8 672.0,1020.4 675.3,1018.2 C678.6,1016.0 681.9,1013.9 685.3,1011.6 C688.6,1009.3 692.0,1006.8 695.4,1004.6 C698.8,1002.4 702.0,1000.3 705.4,998.6 C708.8,996.9 712.1,995.6 715.5,994.6 C718.9,993.6 722.2,992.9 725.5,992.6 C728.8,992.4 732.1,992.6 735.5,993.1 C738.9,993.6 742.5,994.7 745.6,995.6 C748.7,996.5 752.6,997.9 754.0,998.4" fill="none" stroke="#b2b2b2" stroke-width="17.5" stroke-linejoin="round" stroke-linecap="round" stroke-linecap="butt"/>
<path d="M148.0,999.0 C148.7,999.2 149.3,999.1 152.3,1000.2 C155.3,1001.4 161.8,1003.9 165.8,1005.9 C169.8,1007.9 172.7,1010.0 176.1,1012.2 C179.5,1014.5 183.0,1016.9 186.5,1019.4 C190.0,1021.9 193.4,1024.6 196.9,1027.2 C200.4,1029.8 203.9,1032.4 207.3,1035.0 C210.8,1037.6 214.2,1040.2 217.6,1042.8 C221.0,1045.4 224.5,1047.9 228.0,1050.6 C231.5,1053.3 234.9,1056.1 238.4,1058.9 C241.9,1061.8 245.4,1064.7 248.8,1067.7 C252.2,1070.7 255.7,1074.0 259.1,1077.0 C262.6,1080.0 266.0,1082.8 269.5,1085.8 C273.0,1088.8 276.4,1091.8 279.9,1094.7 C283.4,1097.6 286.9,1100.6 290.3,1103.2 C293.7,1105.8 297.6,1108.7 300.0,1110.5 C302.4,1112.3 302.5,1112.5 305.0,1114.1 C307.5,1115.7 311.8,1118.3 315.1,1120.2 C318.5,1122.1 321.8,1123.6 325.1,1125.2 C328.5,1126.8 331.9,1128.4 335.2,1129.7 C338.5,1131.0 341.9,1132.0 345.2,1133.2 C348.5,1134.4 351.8,1135.5 355.2,1136.7 C358.6,1137.9 361.9,1139.2 365.3,1140.2 C368.7,1141.2 372.0,1141.9 375.3,1142.7 C378.6,1143.5 382.0,1144.4 385.3,1145.2 C388.6,1146.0 392.0,1146.9 395.4,1147.8 C398.8,1148.7 402.0,1149.7 405.4,1150.8 C408.8,1151.9 412.1,1153.2 415.5,1154.3 C418.9,1155.4 422.2,1156.4 425.5,1157.3 C428.8,1158.2 432.1,1159.2 435.5,1159.8 C438.9,1160.3 442.0,1160.8 445.6,1160.6 C449.2,1160.4 453.0,1159.9 456.9,1158.8 C460.8,1157.7 464.8,1156.1 468.7,1154.0 C472.6,1151.9 476.7,1149.4 480.6,1146.3 C484.6,1143.2 488.4,1139.8 492.4,1135.6 C496.3,1131.3 500.3,1126.0 504.3,1120.8 C508.3,1115.6 512.2,1109.9 516.2,1104.2 C520.2,1098.5 524.0,1092.5 528.0,1086.4 C532.0,1080.3 535.9,1073.3 539.9,1067.4 C543.9,1061.5 547.8,1055.2 551.7,1050.8 C555.7,1046.4 559.6,1043.2 563.6,1040.8 C567.6,1038.4 571.5,1037.2 575.5,1036.2 C579.5,1035.2 583.7,1035.2 587.3,1035.0 C590.9,1034.8 593.9,1034.8 597.0,1034.8 C600.1,1034.8 603.0,1035.0 606.0,1035.2 C609.0,1035.5 611.8,1036.0 615.0,1036.3 C618.2,1036.6 621.7,1036.9 625.1,1036.9 C628.5,1036.9 631.9,1036.7 635.2,1036.2 C638.6,1035.7 641.9,1034.8 645.2,1033.7 C648.5,1032.6 651.9,1031.2 655.2,1029.7 C658.6,1028.2 661.9,1026.6 665.3,1024.7 C668.6,1022.8 672.0,1020.4 675.3,1018.2 C678.6,1016.0 681.9,1013.9 685.3,1011.6 C688.6,1009.3 692.0,1006.8 695.4,1004.6 C698.8,1002.4 702.0,1000.3 705.4,998.6 C708.8,996.9 712.1,995.6 715.5,994.6 C718.9,993.6 722.2,992.9 725.5,992.6 C728.8,992.4 732.1,992.6 735.5,993.1 C738.9,993.6 742.5,994.7 745.6,995.6 C748.7,996.5 752.6,997.9 754.0,998.4" fill="none" stroke="#000" stroke-width="4.2" stroke-linejoin="round" stroke-linecap="round" stroke-linecap="butt"/>
<polyline points="179.6,1040.7 239.6,1081.5 300.0,1114.0 360.2,1131.5 420.4,1147.0 480.6,1120.7 541.1,1061.4 601.3,1029.7 661.8,1012.9 722.0,996.8" fill="none" stroke="#ff0000" stroke-width="3.9" stroke-linejoin="round" stroke-dasharray="22,10.3" stroke-linejoin="miter"/>
<circle cx="179.6" cy="1040.7" r="10.3" fill="none" stroke="#ff0000" stroke-width="3.9"/>
<circle cx="239.6" cy="1081.5" r="10.3" fill="none" stroke="#ff0000" stroke-width="3.9"/>
<circle cx="300.0" cy="1114.0" r="10.3" fill="none" stroke="#ff0000" stroke-width="3.9"/>
<circle cx="360.2" cy="1131.5" r="10.3" fill="none" stroke="#ff0000" stroke-width="3.9"/>
<circle cx="420.4" cy="1147.0" r="10.3" fill="none" stroke="#ff0000" stroke-width="3.9"/>
<circle cx="480.6" cy="1120.7" r="10.3" fill="none" stroke="#ff0000" stroke-width="3.9"/>
<circle cx="541.1" cy="1061.4" r="10.3" fill="none" stroke="#ff0000" stroke-width="3.9"/>
<circle cx="601.3" cy="1029.7" r="10.3" fill="none" stroke="#ff0000" stroke-width="3.9"/>
<circle cx="661.8" cy="1012.9" r="10.3" fill="none" stroke="#ff0000" stroke-width="3.9"/>
<circle cx="722.0" cy="996.8" r="10.3" fill="none" stroke="#ff0000" stroke-width="3.9"/>
</g>
<rect x="149.5" y="928.6" width="602.0" height="290.4" fill="none" stroke="#000" stroke-width="6.6"/>
<line x1="209.7" y1="928.6" x2="209.7" y2="948.6" stroke="#000" stroke-width="6.0" />
<line x1="209.7" y1="1199.0" x2="209.7" y2="1219.0" stroke="#000" stroke-width="6.0" />
<line x1="269.9" y1="928.6" x2="269.9" y2="948.6" stroke="#000" stroke-width="6.0" />
<line x1="269.9" y1="1199.0" x2="269.9" y2="1219.0" stroke="#000" stroke-width="6.0" />
<line x1="330.1" y1="928.6" x2="330.1" y2="948.6" stroke="#000" stroke-width="6.0" />
<line x1="330.1" y1="1199.0" x2="330.1" y2="1219.0" stroke="#000" stroke-width="6.0" />
<line x1="390.3" y1="928.6" x2="390.3" y2="948.6" stroke="#000" stroke-width="6.0" />
<line x1="390.3" y1="1199.0" x2="390.3" y2="1219.0" stroke="#000" stroke-width="6.0" />
<line x1="450.5" y1="928.6" x2="450.5" y2="948.6" stroke="#000" stroke-width="6.0" />
<line x1="450.5" y1="1199.0" x2="450.5" y2="1219.0" stroke="#000" stroke-width="6.0" />
<line x1="510.7" y1="928.6" x2="510.7" y2="948.6" stroke="#000" stroke-width="6.0" />
<line x1="510.7" y1="1199.0" x2="510.7" y2="1219.0" stroke="#000" stroke-width="6.0" />
<line x1="570.9" y1="928.6" x2="570.9" y2="948.6" stroke="#000" stroke-width="6.0" />
<line x1="570.9" y1="1199.0" x2="570.9" y2="1219.0" stroke="#000" stroke-width="6.0" />
<line x1="631.1" y1="928.6" x2="631.1" y2="948.6" stroke="#000" stroke-width="6.0" />
<line x1="631.1" y1="1199.0" x2="631.1" y2="1219.0" stroke="#000" stroke-width="6.0" />
<line x1="691.3" y1="928.6" x2="691.3" y2="948.6" stroke="#000" stroke-width="6.0" />
<line x1="691.3" y1="1199.0" x2="691.3" y2="1219.0" stroke="#000" stroke-width="6.0" />
<line x1="450.0" y1="1179.0" x2="450.0" y2="1219.0" stroke="#000" stroke-width="6.0" />
<line x1="149.5" y1="1171.4" x2="189.5" y2="1171.4" stroke="#000" stroke-width="6.0" />
<line x1="711.5" y1="1171.4" x2="751.5" y2="1171.4" stroke="#000" stroke-width="6.0" />
<line x1="149.5" y1="1122.7" x2="169.5" y2="1122.7" stroke="#000" stroke-width="6.0" />
<line x1="731.5" y1="1122.7" x2="751.5" y2="1122.7" stroke="#000" stroke-width="6.0" />
<line x1="149.5" y1="1073.9" x2="189.5" y2="1073.9" stroke="#000" stroke-width="6.0" />
<line x1="711.5" y1="1073.9" x2="751.5" y2="1073.9" stroke="#000" stroke-width="6.0" />
<line x1="149.5" y1="1025.2" x2="169.5" y2="1025.2" stroke="#000" stroke-width="6.0" />
<line x1="731.5" y1="1025.2" x2="751.5" y2="1025.2" stroke="#000" stroke-width="6.0" />
<line x1="149.5" y1="976.4" x2="189.5" y2="976.4" stroke="#000" stroke-width="6.0" />
<line x1="711.5" y1="976.4" x2="751.5" y2="976.4" stroke="#000" stroke-width="6.0" />
<rect x="449.5" y="1173" width="305.3" height="48" fill="#ff20ff"/>
<text transform="translate(550.90,1210.0) scale(0.9969,1.03)" font-size="48" font-weight="bold" font-style="normal" fill="#000">ECH</text>
<text transform="translate(148.5,1268.5) scale(1.0,1.06)" font-size="48" text-anchor="middle" font-weight="bold" font-style="normal" fill="#000">&#8722;0.5</text>
<text transform="translate(450.5,1268.5) scale(1.0,1.06)" font-size="48" text-anchor="middle" font-weight="bold" font-style="normal" fill="#000">0.0</text>
<text transform="translate(753.0,1268.5) scale(1.0,1.06)" font-size="48" text-anchor="middle" font-weight="bold" font-style="normal" fill="#000">0.5</text>
<text transform="translate(387.78,1340.6) scale(0.9962,1.0)" font-size="49" font-weight="normal" font-style="italic" fill="#000" font-family="DejaVu Sans, sans-serif">&#964;f</text>
<text transform="translate(434.54,1348.0) scale(1.0716,1.0)" font-size="36" font-weight="normal" font-style="normal" fill="#000">mod</text>
<g clip-path="url(#ce)">
<path d="M855.0,1036.6 C855.8,1036.4 856.6,1036.5 860.0,1035.6 C863.4,1034.7 869.2,1032.2 875.1,1031.0 C881.0,1029.8 889.4,1028.5 895.2,1028.5 C901.1,1028.5 905.2,1029.1 910.2,1031.0 C915.2,1032.9 920.3,1036.8 925.3,1040.1 C930.3,1043.4 935.3,1047.4 940.3,1051.1 C945.3,1054.8 950.4,1059.2 955.4,1062.2 C960.4,1065.2 965.4,1067.7 970.4,1069.2 C975.4,1070.7 980.5,1070.9 985.5,1071.2 C990.5,1071.5 996.1,1071.5 1000.5,1071.2 C1004.9,1070.9 1007.1,1070.1 1012.0,1069.6 C1016.9,1069.1 1023.7,1068.7 1030.1,1068.1 C1036.5,1067.5 1043.5,1066.1 1050.2,1066.1 C1056.9,1066.1 1063.5,1066.8 1070.2,1068.1 C1076.9,1069.4 1083.6,1072.1 1090.3,1074.1 C1097.0,1076.1 1103.7,1079.0 1110.4,1080.2 C1117.1,1081.4 1123.9,1081.3 1130.5,1081.5 C1137.1,1081.7 1144.2,1081.9 1150.0,1081.5 C1155.8,1081.1 1157.5,1079.8 1165.0,1079.3 C1172.5,1078.8 1185.1,1078.6 1195.1,1078.3 C1205.1,1078.0 1216.8,1077.7 1225.2,1077.3 C1233.6,1076.9 1239.4,1076.9 1245.3,1075.7 C1251.2,1074.5 1255.4,1072.8 1260.4,1070.2 C1265.4,1067.6 1270.4,1063.9 1275.4,1060.2 C1280.4,1056.5 1285.5,1052.1 1290.5,1048.1 C1295.5,1044.1 1301.4,1039.3 1305.5,1036.1 C1309.6,1032.9 1310.3,1031.4 1315.0,1029.0 C1319.7,1026.6 1327.5,1023.1 1333.8,1021.5 C1340.1,1019.9 1346.3,1018.5 1352.6,1019.1 C1358.9,1019.7 1365.2,1022.7 1371.5,1025.2 C1377.8,1027.7 1384.0,1031.8 1390.3,1034.2 C1396.6,1036.6 1404.4,1038.6 1409.1,1039.8 C1413.8,1041.0 1415.4,1041.0 1418.5,1041.2 C1421.6,1041.4 1424.0,1041.4 1427.9,1040.8 C1431.8,1040.2 1437.1,1038.6 1442.0,1037.5 C1446.9,1036.4 1453.4,1035.0 1457.1,1034.2 C1460.8,1033.4 1462.8,1032.8 1464.0,1032.5 L1464.0,1068.0 C1462.8,1068.2 1461.5,1068.3 1457.1,1069.0 C1452.6,1069.7 1443.7,1071.2 1437.3,1072.3 C1430.9,1073.4 1423.2,1075.4 1418.5,1075.6 C1413.8,1075.8 1413.8,1074.8 1409.1,1073.2 C1404.4,1071.6 1396.6,1068.6 1390.3,1066.2 C1384.0,1063.8 1377.0,1060.8 1371.5,1058.6 C1366.0,1056.4 1362.0,1054.1 1357.3,1053.0 C1352.6,1051.9 1347.1,1051.5 1343.2,1051.8 C1339.3,1052.0 1336.8,1053.1 1333.8,1054.5 C1330.8,1055.9 1328.9,1057.3 1325.0,1060.0 C1321.1,1062.7 1315.4,1066.3 1310.5,1070.5 C1305.6,1074.7 1300.5,1081.0 1295.5,1085.3 C1290.5,1089.6 1285.4,1093.1 1280.4,1096.3 C1275.4,1099.5 1271.2,1102.1 1265.4,1104.4 C1259.6,1106.8 1252.0,1108.9 1245.3,1110.4 C1238.6,1111.9 1231.9,1112.6 1225.2,1113.4 C1218.5,1114.2 1211.9,1114.7 1205.2,1115.4 C1198.5,1116.2 1191.8,1117.0 1185.1,1117.9 C1178.4,1118.8 1170.8,1120.2 1165.0,1120.9 C1159.2,1121.6 1156.2,1122.3 1150.5,1122.3 C1144.8,1122.3 1137.2,1121.8 1130.5,1120.8 C1123.8,1119.8 1117.1,1118.2 1110.4,1116.3 C1103.7,1114.4 1097.0,1111.6 1090.3,1109.3 C1083.6,1107.0 1076.9,1103.7 1070.2,1102.2 C1063.5,1100.7 1056.9,1099.7 1050.2,1100.2 C1043.5,1100.7 1036.8,1103.2 1030.1,1105.2 C1023.4,1107.2 1015.8,1110.5 1010.0,1112.3 C1004.2,1114.1 999.6,1115.4 995.5,1115.9 C991.4,1116.4 989.7,1116.5 985.5,1115.4 C981.3,1114.3 975.4,1112.0 970.4,1109.3 C965.4,1106.6 960.4,1102.8 955.4,1099.3 C950.4,1095.8 945.3,1092.0 940.3,1088.3 C935.3,1084.6 930.3,1080.7 925.3,1077.2 C920.3,1073.7 915.2,1070.0 910.2,1067.2 C905.2,1064.4 901.1,1061.0 895.2,1060.2 C889.4,1059.4 881.0,1060.9 875.1,1062.2 C869.2,1063.5 863.4,1067.0 860.0,1068.2 C856.6,1069.4 855.8,1069.2 855.0,1069.4 Z" fill="#b2b2b2"/>
<path d="M855.0,1053.4 C855.8,1053.1 857.5,1052.6 860.0,1051.6 C862.5,1050.5 866.8,1048.3 870.1,1047.1 C873.5,1045.8 876.8,1044.7 880.1,1044.1 C883.4,1043.5 886.8,1043.4 890.1,1043.6 C893.5,1043.8 896.9,1044.2 900.2,1045.1 C903.6,1046.0 906.9,1047.4 910.2,1049.1 C913.5,1050.8 916.9,1053.1 920.2,1055.1 C923.6,1057.1 926.9,1059.0 930.3,1061.2 C933.6,1063.4 936.9,1065.9 940.3,1068.2 C943.6,1070.5 947.0,1072.9 950.4,1075.2 C953.8,1077.5 957.1,1080.0 960.4,1082.2 C963.7,1084.4 967.0,1086.7 970.4,1088.3 C973.8,1089.9 977.1,1091.0 980.5,1091.8 C983.9,1092.6 987.2,1093.1 990.5,1093.3 C993.8,1093.5 997.2,1093.0 1000.5,1092.8 C1003.8,1092.6 1006.8,1092.4 1010.0,1092.0 C1013.2,1091.6 1016.6,1091.0 1020.0,1090.2 C1023.4,1089.4 1026.8,1088.1 1030.1,1087.2 C1033.4,1086.3 1036.8,1085.4 1040.1,1084.7 C1043.4,1084.0 1046.8,1083.5 1050.2,1083.2 C1053.6,1083.0 1056.9,1083.0 1060.2,1083.2 C1063.5,1083.4 1066.9,1083.5 1070.2,1084.2 C1073.5,1084.9 1077.0,1086.0 1080.3,1087.2 C1083.6,1088.4 1087.0,1089.9 1090.3,1091.2 C1093.6,1092.5 1096.9,1094.0 1100.3,1095.2 C1103.7,1096.5 1107.1,1097.8 1110.4,1098.7 C1113.8,1099.6 1117.1,1100.2 1120.4,1100.7 C1123.8,1101.2 1127.2,1101.5 1130.5,1101.7 C1133.8,1102.0 1137.2,1102.3 1140.5,1102.2 C1143.8,1102.1 1146.4,1101.6 1150.5,1101.2 C1154.6,1100.8 1160.9,1100.2 1165.0,1099.8 C1169.1,1099.4 1171.7,1099.1 1175.0,1098.8 C1178.3,1098.5 1181.8,1098.1 1185.1,1097.8 C1188.4,1097.5 1191.8,1097.3 1195.1,1097.1 C1198.4,1096.9 1201.8,1096.7 1205.2,1096.5 C1208.6,1096.3 1211.9,1096.2 1215.2,1096.1 C1218.5,1096.0 1221.9,1096.0 1225.2,1095.8 C1228.5,1095.6 1232.0,1095.3 1235.3,1094.8 C1238.6,1094.3 1242.0,1093.6 1245.3,1092.8 C1248.6,1092.0 1251.9,1091.1 1255.3,1089.8 C1258.7,1088.5 1262.1,1086.7 1265.4,1084.8 C1268.8,1082.9 1272.1,1080.7 1275.4,1078.3 C1278.8,1075.9 1282.2,1073.1 1285.5,1070.2 C1288.8,1067.3 1292.2,1063.7 1295.5,1060.7 C1298.8,1057.7 1302.2,1054.8 1305.5,1052.4 C1308.8,1050.0 1311.8,1048.1 1315.0,1046.2 C1318.2,1044.3 1321.4,1042.8 1324.5,1041.3 C1327.6,1039.8 1330.7,1038.5 1333.8,1037.5 C1336.9,1036.5 1340.1,1035.5 1343.2,1035.1 C1346.3,1034.7 1349.5,1034.6 1352.6,1034.9 C1355.7,1035.2 1358.8,1036.0 1362.0,1037.0 C1365.2,1038.0 1368.3,1039.8 1371.5,1041.2 C1374.7,1042.6 1377.8,1044.0 1380.9,1045.5 C1384.0,1047.0 1387.2,1048.7 1390.3,1050.2 C1393.4,1051.7 1396.6,1053.2 1399.7,1054.4 C1402.8,1055.7 1406.0,1056.9 1409.1,1057.7 C1412.2,1058.5 1415.4,1059.1 1418.5,1059.4 C1421.6,1059.7 1424.8,1059.7 1427.9,1059.4 C1431.0,1059.1 1434.2,1058.6 1437.3,1057.7 C1440.4,1056.8 1443.4,1055.2 1446.7,1053.9 C1450.0,1052.7 1454.2,1051.2 1457.1,1050.2 C1460.0,1049.2 1462.8,1048.2 1464.0,1047.8" fill="none" stroke="#000" stroke-width="4.2" stroke-linejoin="round" stroke-linecap="round" stroke-linecap="butt"/>
<polyline points="887.1,1064.2 947.3,1065.0 1008.1,1074.2 1068.2,1082.2 1128.9,1080.7 1189.1,1081.8 1249.3,1079.8 1309.5,1076.2 1370.5,1071.3 1430.3,1061.5" fill="none" stroke="#ff0000" stroke-width="3.9" stroke-linejoin="round" stroke-dasharray="22,10.3" stroke-linejoin="miter"/>
<circle cx="887.1" cy="1064.2" r="10.3" fill="none" stroke="#ff0000" stroke-width="3.9"/>
<circle cx="947.3" cy="1065.0" r="10.3" fill="none" stroke="#ff0000" stroke-width="3.9"/>
<circle cx="1008.1" cy="1074.2" r="10.3" fill="none" stroke="#ff0000" stroke-width="3.9"/>
<circle cx="1068.2" cy="1082.2" r="10.3" fill="none" stroke="#ff0000" stroke-width="3.9"/>
<circle cx="1128.9" cy="1080.7" r="10.3" fill="none" stroke="#ff0000" stroke-width="3.9"/>
<circle cx="1189.1" cy="1081.8" r="10.3" fill="none" stroke="#ff0000" stroke-width="3.9"/>
<circle cx="1249.3" cy="1079.8" r="10.3" fill="none" stroke="#ff0000" stroke-width="3.9"/>
<circle cx="1309.5" cy="1076.2" r="10.3" fill="none" stroke="#ff0000" stroke-width="3.9"/>
<circle cx="1370.5" cy="1071.3" r="10.3" fill="none" stroke="#ff0000" stroke-width="3.9"/>
<circle cx="1430.3" cy="1061.5" r="10.3" fill="none" stroke="#ff0000" stroke-width="3.9"/>
</g>
<rect x="857.3" y="928.6" width="603.5" height="290.4" fill="none" stroke="#000" stroke-width="6.6"/>
<line x1="917.6" y1="928.6" x2="917.6" y2="948.6" stroke="#000" stroke-width="6.0" />
<line x1="917.6" y1="1199.0" x2="917.6" y2="1219.0" stroke="#000" stroke-width="6.0" />
<line x1="978.0" y1="928.6" x2="978.0" y2="948.6" stroke="#000" stroke-width="6.0" />
<line x1="978.0" y1="1199.0" x2="978.0" y2="1219.0" stroke="#000" stroke-width="6.0" />
<line x1="1038.3" y1="928.6" x2="1038.3" y2="948.6" stroke="#000" stroke-width="6.0" />
<line x1="1038.3" y1="1199.0" x2="1038.3" y2="1219.0" stroke="#000" stroke-width="6.0" />
<line x1="1098.7" y1="928.6" x2="1098.7" y2="948.6" stroke="#000" stroke-width="6.0" />
<line x1="1098.7" y1="1199.0" x2="1098.7" y2="1219.0" stroke="#000" stroke-width="6.0" />
<line x1="1159.0" y1="928.6" x2="1159.0" y2="948.6" stroke="#000" stroke-width="6.0" />
<line x1="1159.0" y1="1199.0" x2="1159.0" y2="1219.0" stroke="#000" stroke-width="6.0" />
<line x1="1219.4" y1="928.6" x2="1219.4" y2="948.6" stroke="#000" stroke-width="6.0" />
<line x1="1219.4" y1="1199.0" x2="1219.4" y2="1219.0" stroke="#000" stroke-width="6.0" />
<line x1="1279.8" y1="928.6" x2="1279.8" y2="948.6" stroke="#000" stroke-width="6.0" />
<line x1="1279.8" y1="1199.0" x2="1279.8" y2="1219.0" stroke="#000" stroke-width="6.0" />
<line x1="1340.1" y1="928.6" x2="1340.1" y2="948.6" stroke="#000" stroke-width="6.0" />
<line x1="1340.1" y1="1199.0" x2="1340.1" y2="1219.0" stroke="#000" stroke-width="6.0" />
<line x1="1400.4" y1="928.6" x2="1400.4" y2="948.6" stroke="#000" stroke-width="6.0" />
<line x1="1400.4" y1="1199.0" x2="1400.4" y2="1219.0" stroke="#000" stroke-width="6.0" />
<line x1="1158.5" y1="1179.0" x2="1158.5" y2="1219.0" stroke="#000" stroke-width="6.0" />
<line x1="857.3" y1="1171.4" x2="897.3" y2="1171.4" stroke="#000" stroke-width="6.0" />
<line x1="1420.8" y1="1171.4" x2="1460.8" y2="1171.4" stroke="#000" stroke-width="6.0" />
<line x1="857.3" y1="1122.7" x2="877.3" y2="1122.7" stroke="#000" stroke-width="6.0" />
<line x1="1440.8" y1="1122.7" x2="1460.8" y2="1122.7" stroke="#000" stroke-width="6.0" />
<line x1="857.3" y1="1073.9" x2="897.3" y2="1073.9" stroke="#000" stroke-width="6.0" />
<line x1="1420.8" y1="1073.9" x2="1460.8" y2="1073.9" stroke="#000" stroke-width="6.0" />
<line x1="857.3" y1="1025.2" x2="877.3" y2="1025.2" stroke="#000" stroke-width="6.0" />
<line x1="1440.8" y1="1025.2" x2="1460.8" y2="1025.2" stroke="#000" stroke-width="6.0" />
<line x1="857.3" y1="976.4" x2="897.3" y2="976.4" stroke="#000" stroke-width="6.0" />
<line x1="1420.8" y1="976.4" x2="1460.8" y2="976.4" stroke="#000" stroke-width="6.0" />
<rect x="1158.0" y="1173" width="306.0" height="48" fill="#ff20ff"/>
<text transform="translate(1259.80,1210.0) scale(0.9969,1.03)" font-size="48" font-weight="bold" font-style="normal" fill="#000">ECH</text>
<text transform="translate(856.3,1268.5) scale(1.0,1.06)" font-size="48" text-anchor="middle" font-weight="bold" font-style="normal" fill="#000">&#8722;0.5</text>
<text transform="translate(1159.0,1268.5) scale(1.0,1.06)" font-size="48" text-anchor="middle" font-weight="bold" font-style="normal" fill="#000">0.0</text>
<text transform="translate(1462.3,1268.5) scale(1.0,1.06)" font-size="48" text-anchor="middle" font-weight="bold" font-style="normal" fill="#000">0.5</text>
<text transform="translate(1096.08,1340.6) scale(0.9962,1.0)" font-size="49" font-weight="normal" font-style="italic" fill="#000" font-family="DejaVu Sans, sans-serif">&#964;f</text>
<text transform="translate(1142.84,1348.0) scale(1.0716,1.0)" font-size="36" font-weight="normal" font-style="normal" fill="#000">mod</text>
<text transform="translate(134.5,1184.4) scale(1.0,1.06)" font-size="48" text-anchor="end" font-weight="bold" font-style="normal" fill="#000">&#8722;1</text>
<text transform="translate(134.5,1086.9) scale(1.0,1.06)" font-size="48" text-anchor="end" font-weight="bold" font-style="normal" fill="#000">0</text>
<text transform="translate(134.5,989.4) scale(1.0,1.06)" font-size="48" text-anchor="end" font-weight="bold" font-style="normal" fill="#000">1</text>
<text transform="translate(180.56,989.0) scale(1.0211,1.0)" font-size="48" font-weight="bold" font-style="normal" fill="#000">(d)</text>
<text transform="translate(259.48,989.0) scale(1.0030,1.02)" font-size="48" font-weight="bold" font-style="italic" fill="#000">r</text>
<text transform="translate(274.09,999.0) scale(0.9828,1.0)" font-size="34" font-weight="bold" font-style="normal" fill="#000">eff</text>
<text transform="translate(328.59,989.0) scale(1.0102,1.0)" font-size="48" font-weight="bold" font-style="normal" fill="#000">= 0.08 [m]</text>
<text transform="translate(891.35,989.0) scale(1.0244,1.0)" font-size="48" font-weight="bold" font-style="normal" fill="#000">(e)</text>
<text transform="translate(965.78,989.0) scale(1.0030,1.02)" font-size="48" font-weight="bold" font-style="italic" fill="#000">r</text>
<text transform="translate(982.96,999.0) scale(0.9332,1.0)" font-size="34" font-weight="bold" font-style="normal" fill="#000">eff</text>
<text transform="translate(1035.59,989.0) scale(1.0092,1.0)" font-size="48" font-weight="bold" font-style="normal" fill="#000">= 0.26 [m]</text>
<text transform="translate(317.24,1080.2) scale(0.9783,1.02)" font-size="48" font-weight="bold" font-style="italic" fill="#000">&#948;&#981;</text>
<text transform="translate(195.50,1143.9) scale(1.0082,1.02)" font-size="48" font-weight="bold" font-style="italic" fill="#ff0000">&#948;T</text>
<text transform="translate(251.61,1153.5) scale(1.0793,1.0)" font-size="33" font-weight="bold" font-style="normal" fill="#ff0000">e</text>
<text transform="translate(711.96,870.3) scale(1.0105,1.0)" font-size="48" font-weight="bold" font-style="normal" fill="#000">Time [s]</text>
<text transform="translate(1256.47,43.4) scale(1.0098,1.05)" font-size="48" font-weight="bold" font-style="normal" fill="#000"># 167037</text>
</svg></body></html>
